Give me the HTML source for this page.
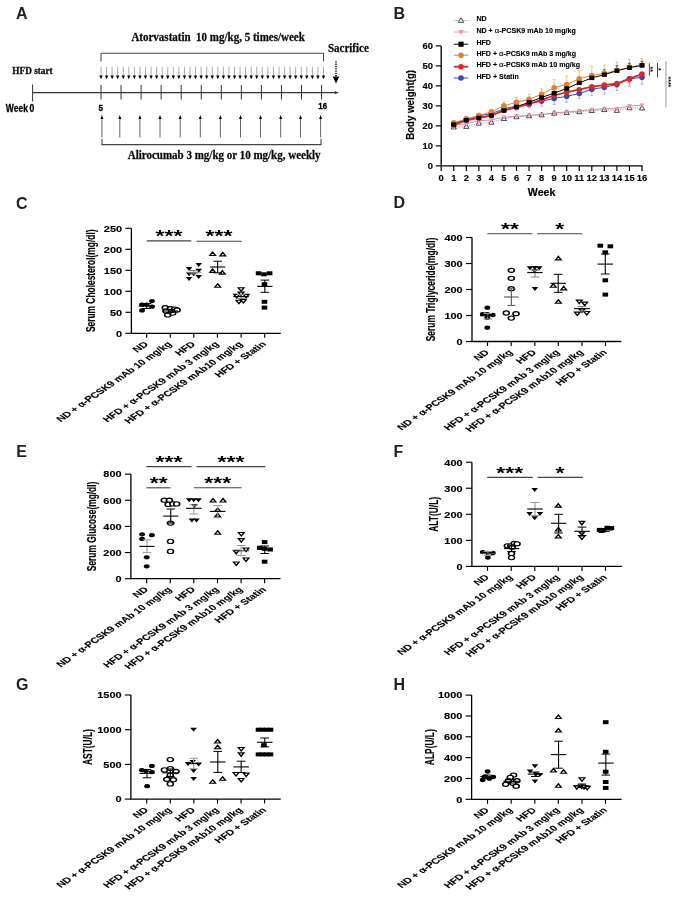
<!DOCTYPE html>
<html><head><meta charset="utf-8"><style>
html,body{margin:0;padding:0;background:#fff;}
svg{display:block;filter:blur(0.35px);}
</style></head><body>
<svg width="685" height="900" viewBox="0 0 685 900">
<rect width="685" height="900" fill="#fff"/>
<text transform="translate(15.90,18.80)" font-family="Liberation Sans" font-size="16" font-weight="bold" text-anchor="start" fill="#231f20" >A</text>
<text transform="translate(393.60,18.80)" font-family="Liberation Sans" font-size="16" font-weight="bold" text-anchor="start" fill="#231f20" >B</text>
<text transform="translate(15.90,208.60)" font-family="Liberation Sans" font-size="16" font-weight="bold" text-anchor="start" fill="#231f20" >C</text>
<text transform="translate(393.60,208.40)" font-family="Liberation Sans" font-size="16" font-weight="bold" text-anchor="start" fill="#231f20" >D</text>
<text transform="translate(16.20,456.80)" font-family="Liberation Sans" font-size="16" font-weight="bold" text-anchor="start" fill="#231f20" >E</text>
<text transform="translate(393.60,456.80)" font-family="Liberation Sans" font-size="16" font-weight="bold" text-anchor="start" fill="#231f20" >F</text>
<text transform="translate(16.00,690.30)" font-family="Liberation Sans" font-size="16" font-weight="bold" text-anchor="start" fill="#231f20" >G</text>
<text transform="translate(393.60,690.00)" font-family="Liberation Sans" font-size="16" font-weight="bold" text-anchor="start" fill="#231f20" >H</text>
<text transform="translate(131.40,41.00) scale(0.88,1.0)" font-family="Liberation Serif" font-size="12.5" font-weight="bold" text-anchor="start" fill="#000" stroke="#231f20" stroke-width="0.3">Atorvastatin&#160; 10 mg/kg, 5 times/week</text>
<text transform="translate(12.30,73.80) scale(0.9,1.0)" font-family="Liberation Serif" font-size="10.3" font-weight="bold" text-anchor="start" fill="#000" stroke="#231f20" stroke-width="0.3">HFD start</text>
<text transform="translate(327.90,51.90) scale(0.875,1.0)" font-family="Liberation Serif" font-size="12.6" font-weight="bold" text-anchor="start" fill="#000" stroke="#231f20" stroke-width="0.3">Sacrifice</text>
<text transform="translate(127.70,159.00) scale(0.88,1.0)" font-family="Liberation Serif" font-size="12.5" font-weight="bold" text-anchor="start" fill="#000" stroke="#231f20" stroke-width="0.3">Alirocumab 3 mg/kg or 10 mg/kg, weekly</text>
<path d="M101,61.5 V53.3 H323.5 V61.5" fill="none" stroke="#444" stroke-width="1.05"/>
<line x1="101.00" y1="66.80" x2="101.00" y2="75.80" stroke="#999" stroke-width="0.85" />
<path d="M99.30,75.4 L102.70,75.4 L101.00,79.2 Z" fill="#000"/>
<line x1="106.56" y1="66.80" x2="106.56" y2="75.80" stroke="#999" stroke-width="0.85" />
<path d="M104.86,75.4 L108.26,75.4 L106.56,79.2 Z" fill="#000"/>
<line x1="112.12" y1="66.80" x2="112.12" y2="75.80" stroke="#999" stroke-width="0.85" />
<path d="M110.42,75.4 L113.83,75.4 L112.12,79.2 Z" fill="#000"/>
<line x1="117.69" y1="66.80" x2="117.69" y2="75.80" stroke="#999" stroke-width="0.85" />
<path d="M115.99,75.4 L119.39,75.4 L117.69,79.2 Z" fill="#000"/>
<line x1="123.25" y1="66.80" x2="123.25" y2="75.80" stroke="#999" stroke-width="0.85" />
<path d="M121.55,75.4 L124.95,75.4 L123.25,79.2 Z" fill="#000"/>
<line x1="128.81" y1="66.80" x2="128.81" y2="75.80" stroke="#999" stroke-width="0.85" />
<path d="M127.11,75.4 L130.51,75.4 L128.81,79.2 Z" fill="#000"/>
<line x1="134.38" y1="66.80" x2="134.38" y2="75.80" stroke="#999" stroke-width="0.85" />
<path d="M132.68,75.4 L136.07,75.4 L134.38,79.2 Z" fill="#000"/>
<line x1="139.94" y1="66.80" x2="139.94" y2="75.80" stroke="#999" stroke-width="0.85" />
<path d="M138.24,75.4 L141.64,75.4 L139.94,79.2 Z" fill="#000"/>
<line x1="145.50" y1="66.80" x2="145.50" y2="75.80" stroke="#999" stroke-width="0.85" />
<path d="M143.80,75.4 L147.20,75.4 L145.50,79.2 Z" fill="#000"/>
<line x1="151.06" y1="66.80" x2="151.06" y2="75.80" stroke="#999" stroke-width="0.85" />
<path d="M149.36,75.4 L152.76,75.4 L151.06,79.2 Z" fill="#000"/>
<line x1="156.62" y1="66.80" x2="156.62" y2="75.80" stroke="#999" stroke-width="0.85" />
<path d="M154.93,75.4 L158.32,75.4 L156.62,79.2 Z" fill="#000"/>
<line x1="162.19" y1="66.80" x2="162.19" y2="75.80" stroke="#999" stroke-width="0.85" />
<path d="M160.49,75.4 L163.89,75.4 L162.19,79.2 Z" fill="#000"/>
<line x1="167.75" y1="66.80" x2="167.75" y2="75.80" stroke="#999" stroke-width="0.85" />
<path d="M166.05,75.4 L169.45,75.4 L167.75,79.2 Z" fill="#000"/>
<line x1="173.31" y1="66.80" x2="173.31" y2="75.80" stroke="#999" stroke-width="0.85" />
<path d="M171.61,75.4 L175.01,75.4 L173.31,79.2 Z" fill="#000"/>
<line x1="178.88" y1="66.80" x2="178.88" y2="75.80" stroke="#999" stroke-width="0.85" />
<path d="M177.18,75.4 L180.57,75.4 L178.88,79.2 Z" fill="#000"/>
<line x1="184.44" y1="66.80" x2="184.44" y2="75.80" stroke="#999" stroke-width="0.85" />
<path d="M182.74,75.4 L186.14,75.4 L184.44,79.2 Z" fill="#000"/>
<line x1="190.00" y1="66.80" x2="190.00" y2="75.80" stroke="#999" stroke-width="0.85" />
<path d="M188.30,75.4 L191.70,75.4 L190.00,79.2 Z" fill="#000"/>
<line x1="195.56" y1="66.80" x2="195.56" y2="75.80" stroke="#999" stroke-width="0.85" />
<path d="M193.86,75.4 L197.26,75.4 L195.56,79.2 Z" fill="#000"/>
<line x1="201.12" y1="66.80" x2="201.12" y2="75.80" stroke="#999" stroke-width="0.85" />
<path d="M199.43,75.4 L202.82,75.4 L201.12,79.2 Z" fill="#000"/>
<line x1="206.69" y1="66.80" x2="206.69" y2="75.80" stroke="#999" stroke-width="0.85" />
<path d="M204.99,75.4 L208.39,75.4 L206.69,79.2 Z" fill="#000"/>
<line x1="212.25" y1="66.80" x2="212.25" y2="75.80" stroke="#999" stroke-width="0.85" />
<path d="M210.55,75.4 L213.95,75.4 L212.25,79.2 Z" fill="#000"/>
<line x1="217.81" y1="66.80" x2="217.81" y2="75.80" stroke="#999" stroke-width="0.85" />
<path d="M216.11,75.4 L219.51,75.4 L217.81,79.2 Z" fill="#000"/>
<line x1="223.38" y1="66.80" x2="223.38" y2="75.80" stroke="#999" stroke-width="0.85" />
<path d="M221.68,75.4 L225.07,75.4 L223.38,79.2 Z" fill="#000"/>
<line x1="228.94" y1="66.80" x2="228.94" y2="75.80" stroke="#999" stroke-width="0.85" />
<path d="M227.24,75.4 L230.64,75.4 L228.94,79.2 Z" fill="#000"/>
<line x1="234.50" y1="66.80" x2="234.50" y2="75.80" stroke="#999" stroke-width="0.85" />
<path d="M232.80,75.4 L236.20,75.4 L234.50,79.2 Z" fill="#000"/>
<line x1="240.06" y1="66.80" x2="240.06" y2="75.80" stroke="#999" stroke-width="0.85" />
<path d="M238.36,75.4 L241.76,75.4 L240.06,79.2 Z" fill="#000"/>
<line x1="245.62" y1="66.80" x2="245.62" y2="75.80" stroke="#999" stroke-width="0.85" />
<path d="M243.93,75.4 L247.32,75.4 L245.62,79.2 Z" fill="#000"/>
<line x1="251.19" y1="66.80" x2="251.19" y2="75.80" stroke="#999" stroke-width="0.85" />
<path d="M249.49,75.4 L252.89,75.4 L251.19,79.2 Z" fill="#000"/>
<line x1="256.75" y1="66.80" x2="256.75" y2="75.80" stroke="#999" stroke-width="0.85" />
<path d="M255.05,75.4 L258.45,75.4 L256.75,79.2 Z" fill="#000"/>
<line x1="262.31" y1="66.80" x2="262.31" y2="75.80" stroke="#999" stroke-width="0.85" />
<path d="M260.61,75.4 L264.01,75.4 L262.31,79.2 Z" fill="#000"/>
<line x1="267.88" y1="66.80" x2="267.88" y2="75.80" stroke="#999" stroke-width="0.85" />
<path d="M266.18,75.4 L269.57,75.4 L267.88,79.2 Z" fill="#000"/>
<line x1="273.44" y1="66.80" x2="273.44" y2="75.80" stroke="#999" stroke-width="0.85" />
<path d="M271.74,75.4 L275.14,75.4 L273.44,79.2 Z" fill="#000"/>
<line x1="279.00" y1="66.80" x2="279.00" y2="75.80" stroke="#999" stroke-width="0.85" />
<path d="M277.30,75.4 L280.70,75.4 L279.00,79.2 Z" fill="#000"/>
<line x1="284.56" y1="66.80" x2="284.56" y2="75.80" stroke="#999" stroke-width="0.85" />
<path d="M282.86,75.4 L286.26,75.4 L284.56,79.2 Z" fill="#000"/>
<line x1="290.12" y1="66.80" x2="290.12" y2="75.80" stroke="#999" stroke-width="0.85" />
<path d="M288.43,75.4 L291.82,75.4 L290.12,79.2 Z" fill="#000"/>
<line x1="295.69" y1="66.80" x2="295.69" y2="75.80" stroke="#999" stroke-width="0.85" />
<path d="M293.99,75.4 L297.39,75.4 L295.69,79.2 Z" fill="#000"/>
<line x1="301.25" y1="66.80" x2="301.25" y2="75.80" stroke="#999" stroke-width="0.85" />
<path d="M299.55,75.4 L302.95,75.4 L301.25,79.2 Z" fill="#000"/>
<line x1="306.81" y1="66.80" x2="306.81" y2="75.80" stroke="#999" stroke-width="0.85" />
<path d="M305.11,75.4 L308.51,75.4 L306.81,79.2 Z" fill="#000"/>
<line x1="312.38" y1="66.80" x2="312.38" y2="75.80" stroke="#999" stroke-width="0.85" />
<path d="M310.68,75.4 L314.07,75.4 L312.38,79.2 Z" fill="#000"/>
<line x1="317.94" y1="66.80" x2="317.94" y2="75.80" stroke="#999" stroke-width="0.85" />
<path d="M316.24,75.4 L319.64,75.4 L317.94,79.2 Z" fill="#000"/>
<line x1="323.50" y1="66.80" x2="323.50" y2="75.80" stroke="#999" stroke-width="0.85" />
<path d="M321.80,75.4 L325.20,75.4 L323.50,79.2 Z" fill="#000"/>
<line x1="32.60" y1="92.70" x2="336.00" y2="92.70" stroke="#333" stroke-width="1.2" />
<path d="M334.8,91.1 L338.8,92.7 L334.8,94.3 Z" fill="#333"/>
<line x1="32.60" y1="84.50" x2="32.60" y2="101.50" stroke="#333" stroke-width="1.0" />
<line x1="101.00" y1="85.00" x2="101.00" y2="99.50" stroke="#333" stroke-width="1.0" />
<line x1="121.05" y1="85.00" x2="121.05" y2="99.50" stroke="#333" stroke-width="1.0" />
<line x1="141.10" y1="85.00" x2="141.10" y2="99.50" stroke="#333" stroke-width="1.0" />
<line x1="161.15" y1="85.00" x2="161.15" y2="99.50" stroke="#333" stroke-width="1.0" />
<line x1="181.20" y1="85.00" x2="181.20" y2="99.50" stroke="#333" stroke-width="1.0" />
<line x1="201.25" y1="85.00" x2="201.25" y2="99.50" stroke="#333" stroke-width="1.0" />
<line x1="221.30" y1="85.00" x2="221.30" y2="99.50" stroke="#333" stroke-width="1.0" />
<line x1="241.35" y1="85.00" x2="241.35" y2="99.50" stroke="#333" stroke-width="1.0" />
<line x1="261.40" y1="85.00" x2="261.40" y2="99.50" stroke="#333" stroke-width="1.0" />
<line x1="281.45" y1="85.00" x2="281.45" y2="99.50" stroke="#333" stroke-width="1.0" />
<line x1="301.50" y1="85.00" x2="301.50" y2="99.50" stroke="#333" stroke-width="1.0" />
<line x1="321.55" y1="85.00" x2="321.55" y2="99.50" stroke="#333" stroke-width="1.0" />
<text transform="translate(5.80,111.70) scale(0.82,1.0)" font-family="Liberation Sans" font-size="10.4" font-weight="bold" text-anchor="start" fill="#000" stroke="#000" stroke-width="0.3">Week&#8201;0</text>
<text transform="translate(98.60,110.70) scale(0.84,1.0)" font-family="Liberation Sans" font-size="9.6" font-weight="bold" text-anchor="start" fill="#000" stroke="#000" stroke-width="0.3">5</text>
<text transform="translate(318.30,108.70) scale(0.87,1.0)" font-family="Liberation Sans" font-size="9.0" font-weight="bold" text-anchor="start" fill="#000" stroke="#000" stroke-width="0.3">16</text>
<line x1="336.00" y1="61.30" x2="336.00" y2="77.00" stroke="#000" stroke-width="1.4" stroke-dasharray="1.3,1"/>
<path d="M332.7,76.5 L339.3,76.5 L336,83.5 Z" fill="#000"/>
<line x1="101.90" y1="118.50" x2="101.90" y2="137.50" stroke="#555" stroke-width="0.9" />
<path d="M100.40,119 L103.40,119 L101.90,115 Z" fill="#000"/>
<line x1="119.80" y1="118.50" x2="119.80" y2="137.50" stroke="#555" stroke-width="0.9" />
<path d="M118.30,119 L121.30,119 L119.80,115 Z" fill="#000"/>
<line x1="139.90" y1="118.50" x2="139.90" y2="137.50" stroke="#555" stroke-width="0.9" />
<path d="M138.40,119 L141.40,119 L139.90,115 Z" fill="#000"/>
<line x1="160.00" y1="118.50" x2="160.00" y2="137.50" stroke="#555" stroke-width="0.9" />
<path d="M158.50,119 L161.50,119 L160.00,115 Z" fill="#000"/>
<line x1="180.20" y1="118.50" x2="180.20" y2="137.50" stroke="#555" stroke-width="0.9" />
<path d="M178.70,119 L181.70,119 L180.20,115 Z" fill="#000"/>
<line x1="200.30" y1="118.50" x2="200.30" y2="137.50" stroke="#555" stroke-width="0.9" />
<path d="M198.80,119 L201.80,119 L200.30,115 Z" fill="#000"/>
<line x1="220.40" y1="118.50" x2="220.40" y2="137.50" stroke="#555" stroke-width="0.9" />
<path d="M218.90,119 L221.90,119 L220.40,115 Z" fill="#000"/>
<line x1="240.50" y1="118.50" x2="240.50" y2="137.50" stroke="#555" stroke-width="0.9" />
<path d="M239.00,119 L242.00,119 L240.50,115 Z" fill="#000"/>
<line x1="260.50" y1="118.50" x2="260.50" y2="137.50" stroke="#555" stroke-width="0.9" />
<path d="M259.00,119 L262.00,119 L260.50,115 Z" fill="#000"/>
<line x1="280.70" y1="118.50" x2="280.70" y2="137.50" stroke="#555" stroke-width="0.9" />
<path d="M279.20,119 L282.20,119 L280.70,115 Z" fill="#000"/>
<line x1="300.50" y1="118.50" x2="300.50" y2="137.50" stroke="#555" stroke-width="0.9" />
<path d="M299.00,119 L302.00,119 L300.50,115 Z" fill="#000"/>
<line x1="320.60" y1="118.50" x2="320.60" y2="137.50" stroke="#555" stroke-width="0.9" />
<path d="M319.10,119 L322.10,119 L320.60,115 Z" fill="#000"/>
<path d="M102,138.8 V144.6 H321 V138.8" fill="none" stroke="#444" stroke-width="1.05"/>
<line x1="453.75" y1="121.30" x2="453.75" y2="122.90" stroke="#f0b070" stroke-width="0.8" />
<line x1="452.25" y1="121.30" x2="455.25" y2="121.30" stroke="#f0b070" stroke-width="0.8" />
<line x1="466.30" y1="116.90" x2="466.30" y2="118.90" stroke="#f0b070" stroke-width="0.8" />
<line x1="464.80" y1="116.90" x2="467.80" y2="116.90" stroke="#f0b070" stroke-width="0.8" />
<line x1="478.85" y1="113.10" x2="478.85" y2="115.50" stroke="#f0b070" stroke-width="0.8" />
<line x1="477.35" y1="113.10" x2="480.35" y2="113.10" stroke="#f0b070" stroke-width="0.8" />
<line x1="491.40" y1="109.30" x2="491.40" y2="111.90" stroke="#f0b070" stroke-width="0.8" />
<line x1="489.90" y1="109.30" x2="492.90" y2="109.30" stroke="#f0b070" stroke-width="0.8" />
<line x1="503.95" y1="101.90" x2="503.95" y2="105.90" stroke="#f0b070" stroke-width="0.8" />
<line x1="502.45" y1="101.90" x2="505.45" y2="101.90" stroke="#f0b070" stroke-width="0.8" />
<line x1="516.50" y1="97.70" x2="516.50" y2="102.30" stroke="#f0b070" stroke-width="0.8" />
<line x1="515.00" y1="97.70" x2="518.00" y2="97.70" stroke="#f0b070" stroke-width="0.8" />
<line x1="529.05" y1="94.30" x2="529.05" y2="99.30" stroke="#f0b070" stroke-width="0.8" />
<line x1="527.55" y1="94.30" x2="530.55" y2="94.30" stroke="#f0b070" stroke-width="0.8" />
<line x1="541.60" y1="88.70" x2="541.60" y2="94.30" stroke="#f0b070" stroke-width="0.8" />
<line x1="540.10" y1="88.70" x2="543.10" y2="88.70" stroke="#f0b070" stroke-width="0.8" />
<line x1="554.15" y1="79.70" x2="554.15" y2="87.70" stroke="#f0b070" stroke-width="0.8" />
<line x1="552.65" y1="79.70" x2="555.65" y2="79.70" stroke="#f0b070" stroke-width="0.8" />
<line x1="566.70" y1="76.10" x2="566.70" y2="84.50" stroke="#f0b070" stroke-width="0.8" />
<line x1="565.20" y1="76.10" x2="568.20" y2="76.10" stroke="#f0b070" stroke-width="0.8" />
<line x1="579.25" y1="70.70" x2="579.25" y2="78.70" stroke="#f0b070" stroke-width="0.8" />
<line x1="577.75" y1="70.70" x2="580.75" y2="70.70" stroke="#f0b070" stroke-width="0.8" />
<line x1="591.80" y1="66.30" x2="591.80" y2="75.50" stroke="#f0b070" stroke-width="0.8" />
<line x1="590.30" y1="66.30" x2="593.30" y2="66.30" stroke="#f0b070" stroke-width="0.8" />
<line x1="604.35" y1="64.90" x2="604.35" y2="73.30" stroke="#f0b070" stroke-width="0.8" />
<line x1="602.85" y1="64.90" x2="605.85" y2="64.90" stroke="#f0b070" stroke-width="0.8" />
<line x1="616.90" y1="62.10" x2="616.90" y2="70.50" stroke="#f0b070" stroke-width="0.8" />
<line x1="615.40" y1="62.10" x2="618.40" y2="62.10" stroke="#f0b070" stroke-width="0.8" />
<line x1="629.45" y1="59.10" x2="629.45" y2="67.10" stroke="#f0b070" stroke-width="0.8" />
<line x1="627.95" y1="59.10" x2="630.95" y2="59.10" stroke="#f0b070" stroke-width="0.8" />
<line x1="642.00" y1="58.50" x2="642.00" y2="65.30" stroke="#f0b070" stroke-width="0.8" />
<line x1="640.50" y1="58.50" x2="643.50" y2="58.50" stroke="#f0b070" stroke-width="0.8" />
<line x1="453.75" y1="123.50" x2="453.75" y2="125.10" stroke="#8fa0e0" stroke-width="0.8" />
<line x1="452.25" y1="125.10" x2="455.25" y2="125.10" stroke="#8fa0e0" stroke-width="0.8" />
<line x1="466.30" y1="119.50" x2="466.30" y2="121.50" stroke="#8fa0e0" stroke-width="0.8" />
<line x1="464.80" y1="121.50" x2="467.80" y2="121.50" stroke="#8fa0e0" stroke-width="0.8" />
<line x1="478.85" y1="115.90" x2="478.85" y2="117.90" stroke="#8fa0e0" stroke-width="0.8" />
<line x1="477.35" y1="117.90" x2="480.35" y2="117.90" stroke="#8fa0e0" stroke-width="0.8" />
<line x1="491.40" y1="113.50" x2="491.40" y2="115.90" stroke="#8fa0e0" stroke-width="0.8" />
<line x1="489.90" y1="115.90" x2="492.90" y2="115.90" stroke="#8fa0e0" stroke-width="0.8" />
<line x1="503.95" y1="108.90" x2="503.95" y2="111.90" stroke="#8fa0e0" stroke-width="0.8" />
<line x1="502.45" y1="111.90" x2="505.45" y2="111.90" stroke="#8fa0e0" stroke-width="0.8" />
<line x1="516.50" y1="105.90" x2="516.50" y2="109.90" stroke="#8fa0e0" stroke-width="0.8" />
<line x1="515.00" y1="109.90" x2="518.00" y2="109.90" stroke="#8fa0e0" stroke-width="0.8" />
<line x1="529.05" y1="103.90" x2="529.05" y2="107.90" stroke="#8fa0e0" stroke-width="0.8" />
<line x1="527.55" y1="107.90" x2="530.55" y2="107.90" stroke="#8fa0e0" stroke-width="0.8" />
<line x1="541.60" y1="101.10" x2="541.60" y2="106.10" stroke="#8fa0e0" stroke-width="0.8" />
<line x1="540.10" y1="106.10" x2="543.10" y2="106.10" stroke="#8fa0e0" stroke-width="0.8" />
<line x1="554.15" y1="98.50" x2="554.15" y2="104.50" stroke="#8fa0e0" stroke-width="0.8" />
<line x1="552.65" y1="104.50" x2="555.65" y2="104.50" stroke="#8fa0e0" stroke-width="0.8" />
<line x1="566.70" y1="96.30" x2="566.70" y2="102.30" stroke="#8fa0e0" stroke-width="0.8" />
<line x1="565.20" y1="102.30" x2="568.20" y2="102.30" stroke="#8fa0e0" stroke-width="0.8" />
<line x1="579.25" y1="93.50" x2="579.25" y2="98.70" stroke="#8fa0e0" stroke-width="0.8" />
<line x1="577.75" y1="98.70" x2="580.75" y2="98.70" stroke="#8fa0e0" stroke-width="0.8" />
<line x1="591.80" y1="89.30" x2="591.80" y2="95.70" stroke="#8fa0e0" stroke-width="0.8" />
<line x1="590.30" y1="95.70" x2="593.30" y2="95.70" stroke="#8fa0e0" stroke-width="0.8" />
<line x1="604.35" y1="87.30" x2="604.35" y2="94.10" stroke="#8fa0e0" stroke-width="0.8" />
<line x1="602.85" y1="94.10" x2="605.85" y2="94.10" stroke="#8fa0e0" stroke-width="0.8" />
<line x1="616.90" y1="84.50" x2="616.90" y2="90.50" stroke="#8fa0e0" stroke-width="0.8" />
<line x1="615.40" y1="90.50" x2="618.40" y2="90.50" stroke="#8fa0e0" stroke-width="0.8" />
<line x1="629.45" y1="78.90" x2="629.45" y2="86.10" stroke="#8fa0e0" stroke-width="0.8" />
<line x1="627.95" y1="86.10" x2="630.95" y2="86.10" stroke="#8fa0e0" stroke-width="0.8" />
<line x1="642.00" y1="77.30" x2="642.00" y2="84.10" stroke="#8fa0e0" stroke-width="0.8" />
<line x1="640.50" y1="84.10" x2="643.50" y2="84.10" stroke="#8fa0e0" stroke-width="0.8" />
<line x1="453.75" y1="123.50" x2="453.75" y2="124.50" stroke="#444" stroke-width="0.8" />
<line x1="452.25" y1="123.50" x2="455.25" y2="123.50" stroke="#444" stroke-width="0.8" />
<line x1="466.30" y1="118.90" x2="466.30" y2="120.10" stroke="#444" stroke-width="0.8" />
<line x1="464.80" y1="118.90" x2="467.80" y2="118.90" stroke="#444" stroke-width="0.8" />
<line x1="478.85" y1="116.50" x2="478.85" y2="117.90" stroke="#444" stroke-width="0.8" />
<line x1="477.35" y1="116.50" x2="480.35" y2="116.50" stroke="#444" stroke-width="0.8" />
<line x1="491.40" y1="113.90" x2="491.40" y2="115.50" stroke="#444" stroke-width="0.8" />
<line x1="489.90" y1="113.90" x2="492.90" y2="113.90" stroke="#444" stroke-width="0.8" />
<line x1="503.95" y1="108.50" x2="503.95" y2="110.50" stroke="#444" stroke-width="0.8" />
<line x1="502.45" y1="108.50" x2="505.45" y2="108.50" stroke="#444" stroke-width="0.8" />
<line x1="516.50" y1="104.90" x2="516.50" y2="106.90" stroke="#444" stroke-width="0.8" />
<line x1="515.00" y1="104.90" x2="518.00" y2="104.90" stroke="#444" stroke-width="0.8" />
<line x1="529.05" y1="99.90" x2="529.05" y2="102.30" stroke="#444" stroke-width="0.8" />
<line x1="527.55" y1="99.90" x2="530.55" y2="99.90" stroke="#444" stroke-width="0.8" />
<line x1="541.60" y1="94.50" x2="541.60" y2="97.50" stroke="#444" stroke-width="0.8" />
<line x1="540.10" y1="94.50" x2="543.10" y2="94.50" stroke="#444" stroke-width="0.8" />
<line x1="554.15" y1="89.50" x2="554.15" y2="93.10" stroke="#444" stroke-width="0.8" />
<line x1="552.65" y1="89.50" x2="555.65" y2="89.50" stroke="#444" stroke-width="0.8" />
<line x1="566.70" y1="84.50" x2="566.70" y2="88.50" stroke="#444" stroke-width="0.8" />
<line x1="565.20" y1="84.50" x2="568.20" y2="84.50" stroke="#444" stroke-width="0.8" />
<line x1="579.25" y1="78.90" x2="579.25" y2="82.90" stroke="#444" stroke-width="0.8" />
<line x1="577.75" y1="78.90" x2="580.75" y2="78.90" stroke="#444" stroke-width="0.8" />
<line x1="591.80" y1="73.50" x2="591.80" y2="77.90" stroke="#444" stroke-width="0.8" />
<line x1="590.30" y1="73.50" x2="593.30" y2="73.50" stroke="#444" stroke-width="0.8" />
<line x1="604.35" y1="69.90" x2="604.35" y2="74.70" stroke="#444" stroke-width="0.8" />
<line x1="602.85" y1="69.90" x2="605.85" y2="69.90" stroke="#444" stroke-width="0.8" />
<line x1="616.90" y1="65.70" x2="616.90" y2="70.70" stroke="#444" stroke-width="0.8" />
<line x1="615.40" y1="65.70" x2="618.40" y2="65.70" stroke="#444" stroke-width="0.8" />
<line x1="629.45" y1="63.30" x2="629.45" y2="67.70" stroke="#444" stroke-width="0.8" />
<line x1="627.95" y1="63.30" x2="630.95" y2="63.30" stroke="#444" stroke-width="0.8" />
<line x1="642.00" y1="61.30" x2="642.00" y2="65.30" stroke="#444" stroke-width="0.8" />
<line x1="640.50" y1="61.30" x2="643.50" y2="61.30" stroke="#444" stroke-width="0.8" />
<line x1="453.75" y1="124.90" x2="453.75" y2="125.90" stroke="#e88" stroke-width="0.8" />
<line x1="452.25" y1="125.90" x2="455.25" y2="125.90" stroke="#e88" stroke-width="0.8" />
<line x1="466.30" y1="120.30" x2="466.30" y2="121.50" stroke="#e88" stroke-width="0.8" />
<line x1="464.80" y1="121.50" x2="467.80" y2="121.50" stroke="#e88" stroke-width="0.8" />
<line x1="478.85" y1="117.90" x2="478.85" y2="119.30" stroke="#e88" stroke-width="0.8" />
<line x1="477.35" y1="119.30" x2="480.35" y2="119.30" stroke="#e88" stroke-width="0.8" />
<line x1="491.40" y1="115.50" x2="491.40" y2="117.10" stroke="#e88" stroke-width="0.8" />
<line x1="489.90" y1="117.10" x2="492.90" y2="117.10" stroke="#e88" stroke-width="0.8" />
<line x1="503.95" y1="110.30" x2="503.95" y2="112.30" stroke="#e88" stroke-width="0.8" />
<line x1="502.45" y1="112.30" x2="505.45" y2="112.30" stroke="#e88" stroke-width="0.8" />
<line x1="516.50" y1="107.50" x2="516.50" y2="109.50" stroke="#e88" stroke-width="0.8" />
<line x1="515.00" y1="109.50" x2="518.00" y2="109.50" stroke="#e88" stroke-width="0.8" />
<line x1="529.05" y1="103.90" x2="529.05" y2="106.30" stroke="#e88" stroke-width="0.8" />
<line x1="527.55" y1="106.30" x2="530.55" y2="106.30" stroke="#e88" stroke-width="0.8" />
<line x1="541.60" y1="99.90" x2="541.60" y2="102.90" stroke="#e88" stroke-width="0.8" />
<line x1="540.10" y1="102.90" x2="543.10" y2="102.90" stroke="#e88" stroke-width="0.8" />
<line x1="554.15" y1="95.50" x2="554.15" y2="98.70" stroke="#e88" stroke-width="0.8" />
<line x1="552.65" y1="98.70" x2="555.65" y2="98.70" stroke="#e88" stroke-width="0.8" />
<line x1="566.70" y1="92.10" x2="566.70" y2="95.70" stroke="#e88" stroke-width="0.8" />
<line x1="565.20" y1="95.70" x2="568.20" y2="95.70" stroke="#e88" stroke-width="0.8" />
<line x1="579.25" y1="89.70" x2="579.25" y2="93.30" stroke="#e88" stroke-width="0.8" />
<line x1="577.75" y1="93.30" x2="580.75" y2="93.30" stroke="#e88" stroke-width="0.8" />
<line x1="591.80" y1="86.70" x2="591.80" y2="90.70" stroke="#e88" stroke-width="0.8" />
<line x1="590.30" y1="90.70" x2="593.30" y2="90.70" stroke="#e88" stroke-width="0.8" />
<line x1="604.35" y1="85.10" x2="604.35" y2="89.10" stroke="#e88" stroke-width="0.8" />
<line x1="602.85" y1="89.10" x2="605.85" y2="89.10" stroke="#e88" stroke-width="0.8" />
<line x1="616.90" y1="83.50" x2="616.90" y2="87.50" stroke="#e88" stroke-width="0.8" />
<line x1="615.40" y1="87.50" x2="618.40" y2="87.50" stroke="#e88" stroke-width="0.8" />
<line x1="629.45" y1="78.70" x2="629.45" y2="82.70" stroke="#e88" stroke-width="0.8" />
<line x1="627.95" y1="82.70" x2="630.95" y2="82.70" stroke="#e88" stroke-width="0.8" />
<line x1="642.00" y1="74.10" x2="642.00" y2="78.10" stroke="#e88" stroke-width="0.8" />
<line x1="640.50" y1="78.10" x2="643.50" y2="78.10" stroke="#e88" stroke-width="0.8" />
<line x1="453.75" y1="123.90" x2="453.75" y2="125.90" stroke="#e891a8" stroke-width="0.8" />
<line x1="452.25" y1="123.90" x2="455.25" y2="123.90" stroke="#e891a8" stroke-width="0.8" />
<line x1="452.25" y1="125.90" x2="455.25" y2="125.90" stroke="#e891a8" stroke-width="0.8" />
<line x1="466.30" y1="122.90" x2="466.30" y2="124.90" stroke="#e891a8" stroke-width="0.8" />
<line x1="464.80" y1="122.90" x2="467.80" y2="122.90" stroke="#e891a8" stroke-width="0.8" />
<line x1="464.80" y1="124.90" x2="467.80" y2="124.90" stroke="#e891a8" stroke-width="0.8" />
<line x1="478.85" y1="119.90" x2="478.85" y2="121.90" stroke="#e891a8" stroke-width="0.8" />
<line x1="477.35" y1="119.90" x2="480.35" y2="119.90" stroke="#e891a8" stroke-width="0.8" />
<line x1="477.35" y1="121.90" x2="480.35" y2="121.90" stroke="#e891a8" stroke-width="0.8" />
<line x1="491.40" y1="118.90" x2="491.40" y2="120.90" stroke="#e891a8" stroke-width="0.8" />
<line x1="489.90" y1="118.90" x2="492.90" y2="118.90" stroke="#e891a8" stroke-width="0.8" />
<line x1="489.90" y1="120.90" x2="492.90" y2="120.90" stroke="#e891a8" stroke-width="0.8" />
<line x1="503.95" y1="116.30" x2="503.95" y2="118.30" stroke="#e891a8" stroke-width="0.8" />
<line x1="502.45" y1="116.30" x2="505.45" y2="116.30" stroke="#e891a8" stroke-width="0.8" />
<line x1="502.45" y1="118.30" x2="505.45" y2="118.30" stroke="#e891a8" stroke-width="0.8" />
<line x1="516.50" y1="115.30" x2="516.50" y2="117.30" stroke="#e891a8" stroke-width="0.8" />
<line x1="515.00" y1="115.30" x2="518.00" y2="115.30" stroke="#e891a8" stroke-width="0.8" />
<line x1="515.00" y1="117.30" x2="518.00" y2="117.30" stroke="#e891a8" stroke-width="0.8" />
<line x1="529.05" y1="114.30" x2="529.05" y2="116.30" stroke="#e891a8" stroke-width="0.8" />
<line x1="527.55" y1="114.30" x2="530.55" y2="114.30" stroke="#e891a8" stroke-width="0.8" />
<line x1="527.55" y1="116.30" x2="530.55" y2="116.30" stroke="#e891a8" stroke-width="0.8" />
<line x1="541.60" y1="113.50" x2="541.60" y2="115.50" stroke="#e891a8" stroke-width="0.8" />
<line x1="540.10" y1="113.50" x2="543.10" y2="113.50" stroke="#e891a8" stroke-width="0.8" />
<line x1="540.10" y1="115.50" x2="543.10" y2="115.50" stroke="#e891a8" stroke-width="0.8" />
<line x1="554.15" y1="111.90" x2="554.15" y2="113.90" stroke="#e891a8" stroke-width="0.8" />
<line x1="552.65" y1="111.90" x2="555.65" y2="111.90" stroke="#e891a8" stroke-width="0.8" />
<line x1="552.65" y1="113.90" x2="555.65" y2="113.90" stroke="#e891a8" stroke-width="0.8" />
<line x1="566.70" y1="110.90" x2="566.70" y2="112.90" stroke="#e891a8" stroke-width="0.8" />
<line x1="565.20" y1="110.90" x2="568.20" y2="110.90" stroke="#e891a8" stroke-width="0.8" />
<line x1="565.20" y1="112.90" x2="568.20" y2="112.90" stroke="#e891a8" stroke-width="0.8" />
<line x1="579.25" y1="109.90" x2="579.25" y2="111.90" stroke="#e891a8" stroke-width="0.8" />
<line x1="577.75" y1="109.90" x2="580.75" y2="109.90" stroke="#e891a8" stroke-width="0.8" />
<line x1="577.75" y1="111.90" x2="580.75" y2="111.90" stroke="#e891a8" stroke-width="0.8" />
<line x1="591.80" y1="108.50" x2="591.80" y2="110.50" stroke="#e891a8" stroke-width="0.8" />
<line x1="590.30" y1="108.50" x2="593.30" y2="108.50" stroke="#e891a8" stroke-width="0.8" />
<line x1="590.30" y1="110.50" x2="593.30" y2="110.50" stroke="#e891a8" stroke-width="0.8" />
<line x1="604.35" y1="107.70" x2="604.35" y2="109.70" stroke="#e891a8" stroke-width="0.8" />
<line x1="602.85" y1="107.70" x2="605.85" y2="107.70" stroke="#e891a8" stroke-width="0.8" />
<line x1="602.85" y1="109.70" x2="605.85" y2="109.70" stroke="#e891a8" stroke-width="0.8" />
<line x1="616.90" y1="107.70" x2="616.90" y2="109.70" stroke="#e891a8" stroke-width="0.8" />
<line x1="615.40" y1="107.70" x2="618.40" y2="107.70" stroke="#e891a8" stroke-width="0.8" />
<line x1="615.40" y1="109.70" x2="618.40" y2="109.70" stroke="#e891a8" stroke-width="0.8" />
<line x1="629.45" y1="104.90" x2="629.45" y2="106.90" stroke="#e891a8" stroke-width="0.8" />
<line x1="627.95" y1="104.90" x2="630.95" y2="104.90" stroke="#e891a8" stroke-width="0.8" />
<line x1="627.95" y1="106.90" x2="630.95" y2="106.90" stroke="#e891a8" stroke-width="0.8" />
<line x1="642.00" y1="104.30" x2="642.00" y2="106.30" stroke="#e891a8" stroke-width="0.8" />
<line x1="640.50" y1="104.30" x2="643.50" y2="104.30" stroke="#e891a8" stroke-width="0.8" />
<line x1="640.50" y1="106.30" x2="643.50" y2="106.30" stroke="#e891a8" stroke-width="0.8" />
<polyline points="453.75,127.10 466.30,126.50 478.85,123.30 491.40,122.30 503.95,118.70 516.50,116.90 529.05,115.90 541.60,114.90 554.15,113.30 566.70,112.70 579.25,111.90 591.80,110.70 604.35,109.70 616.90,110.50 629.45,107.90 642.00,108.10" fill="none" stroke="#999" stroke-width="0.8" stroke-dasharray="1.5,1"/>
<polyline points="453.75,124.90 466.30,123.90 478.85,120.90 491.40,119.90 503.95,117.30 516.50,116.30 529.05,115.30 541.60,114.50 554.15,112.90 566.70,111.90 579.25,110.90 591.80,109.50 604.35,108.70 616.90,108.70 629.45,105.90 642.00,105.30" fill="none" stroke="#c07888" stroke-width="0.8" />
<polyline points="453.75,123.50 466.30,119.50 478.85,115.90 491.40,113.50 503.95,108.90 516.50,105.90 529.05,103.90 541.60,101.10 554.15,98.50 566.70,96.30 579.25,93.50 591.80,89.30 604.35,87.30 616.90,84.50 629.45,78.90 642.00,77.30" fill="none" stroke="#2d4fb0" stroke-width="1.0" />
<polyline points="453.75,122.90 466.30,118.90 478.85,115.50 491.40,111.90 503.95,105.90 516.50,102.30 529.05,99.30 541.60,94.30 554.15,87.70 566.70,84.50 579.25,78.70 591.80,75.50 604.35,73.30 616.90,70.50 629.45,67.10 642.00,65.30" fill="none" stroke="#e8822a" stroke-width="1.0" />
<polyline points="453.75,124.50 466.30,120.10 478.85,117.90 491.40,115.50 503.95,110.50 516.50,106.90 529.05,102.30 541.60,97.50 554.15,93.10 566.70,88.50 579.25,82.90 591.80,77.90 604.35,74.70 616.90,70.70 629.45,67.70 642.00,65.30" fill="none" stroke="#000" stroke-width="1.0" />
<polyline points="453.75,124.90 466.30,120.30 478.85,117.90 491.40,115.50 503.95,110.30 516.50,107.50 529.05,103.90 541.60,99.90 554.15,95.50 566.70,92.10 579.25,89.70 591.80,86.70 604.35,85.10 616.90,83.50 629.45,78.70 642.00,74.10" fill="none" stroke="#d8282e" stroke-width="1.8" />
<path d="M453.75,124.29 L456.35,128.97 L451.15,128.97 Z" fill="white" stroke="#000" stroke-width="0.7"/>
<path d="M453.75,127.17 L455.85,123.39 L451.65,123.39 Z" fill="#ee9ab0" stroke="#e890a8" stroke-width="0.4"/>
<path d="M466.30,123.69 L468.90,128.37 L463.70,128.37 Z" fill="white" stroke="#000" stroke-width="0.7"/>
<path d="M466.30,126.17 L468.40,122.39 L464.20,122.39 Z" fill="#ee9ab0" stroke="#e890a8" stroke-width="0.4"/>
<path d="M478.85,120.49 L481.45,125.17 L476.25,125.17 Z" fill="white" stroke="#000" stroke-width="0.7"/>
<path d="M478.85,123.17 L480.95,119.39 L476.75,119.39 Z" fill="#ee9ab0" stroke="#e890a8" stroke-width="0.4"/>
<path d="M491.40,119.49 L494.00,124.17 L488.80,124.17 Z" fill="white" stroke="#000" stroke-width="0.7"/>
<path d="M491.40,122.17 L493.50,118.39 L489.30,118.39 Z" fill="#ee9ab0" stroke="#e890a8" stroke-width="0.4"/>
<path d="M503.95,115.89 L506.55,120.57 L501.35,120.57 Z" fill="white" stroke="#000" stroke-width="0.7"/>
<path d="M503.95,119.57 L506.05,115.79 L501.85,115.79 Z" fill="#ee9ab0" stroke="#e890a8" stroke-width="0.4"/>
<path d="M516.50,114.09 L519.10,118.77 L513.90,118.77 Z" fill="white" stroke="#000" stroke-width="0.7"/>
<path d="M516.50,118.57 L518.60,114.79 L514.40,114.79 Z" fill="#ee9ab0" stroke="#e890a8" stroke-width="0.4"/>
<path d="M529.05,113.09 L531.65,117.77 L526.45,117.77 Z" fill="white" stroke="#000" stroke-width="0.7"/>
<path d="M529.05,117.57 L531.15,113.79 L526.95,113.79 Z" fill="#ee9ab0" stroke="#e890a8" stroke-width="0.4"/>
<path d="M541.60,112.09 L544.20,116.77 L539.00,116.77 Z" fill="white" stroke="#000" stroke-width="0.7"/>
<path d="M541.60,116.77 L543.70,112.99 L539.50,112.99 Z" fill="#ee9ab0" stroke="#e890a8" stroke-width="0.4"/>
<path d="M554.15,110.49 L556.75,115.17 L551.55,115.17 Z" fill="white" stroke="#000" stroke-width="0.7"/>
<path d="M554.15,115.17 L556.25,111.39 L552.05,111.39 Z" fill="#ee9ab0" stroke="#e890a8" stroke-width="0.4"/>
<path d="M566.70,109.89 L569.30,114.57 L564.10,114.57 Z" fill="white" stroke="#000" stroke-width="0.7"/>
<path d="M566.70,114.17 L568.80,110.39 L564.60,110.39 Z" fill="#ee9ab0" stroke="#e890a8" stroke-width="0.4"/>
<path d="M579.25,109.09 L581.85,113.77 L576.65,113.77 Z" fill="white" stroke="#000" stroke-width="0.7"/>
<path d="M579.25,113.17 L581.35,109.39 L577.15,109.39 Z" fill="#ee9ab0" stroke="#e890a8" stroke-width="0.4"/>
<path d="M591.80,107.89 L594.40,112.57 L589.20,112.57 Z" fill="white" stroke="#000" stroke-width="0.7"/>
<path d="M591.80,111.77 L593.90,107.99 L589.70,107.99 Z" fill="#ee9ab0" stroke="#e890a8" stroke-width="0.4"/>
<path d="M604.35,106.89 L606.95,111.57 L601.75,111.57 Z" fill="white" stroke="#000" stroke-width="0.7"/>
<path d="M604.35,110.97 L606.45,107.19 L602.25,107.19 Z" fill="#ee9ab0" stroke="#e890a8" stroke-width="0.4"/>
<path d="M616.90,107.69 L619.50,112.37 L614.30,112.37 Z" fill="white" stroke="#000" stroke-width="0.7"/>
<path d="M616.90,110.97 L619.00,107.19 L614.80,107.19 Z" fill="#ee9ab0" stroke="#e890a8" stroke-width="0.4"/>
<path d="M629.45,105.09 L632.05,109.77 L626.85,109.77 Z" fill="white" stroke="#000" stroke-width="0.7"/>
<path d="M629.45,108.17 L631.55,104.39 L627.35,104.39 Z" fill="#ee9ab0" stroke="#e890a8" stroke-width="0.4"/>
<path d="M642.00,105.29 L644.60,109.97 L639.40,109.97 Z" fill="white" stroke="#000" stroke-width="0.7"/>
<path d="M642.00,107.57 L644.10,103.79 L639.90,103.79 Z" fill="#ee9ab0" stroke="#e890a8" stroke-width="0.4"/>
<circle cx="453.75" cy="123.50" r="2.8" fill="#2d4fb0"/>
<circle cx="466.30" cy="119.50" r="2.8" fill="#2d4fb0"/>
<circle cx="478.85" cy="115.90" r="2.8" fill="#2d4fb0"/>
<circle cx="491.40" cy="113.50" r="2.8" fill="#2d4fb0"/>
<circle cx="503.95" cy="108.90" r="2.8" fill="#2d4fb0"/>
<circle cx="516.50" cy="105.90" r="2.8" fill="#2d4fb0"/>
<circle cx="529.05" cy="103.90" r="2.8" fill="#2d4fb0"/>
<circle cx="541.60" cy="101.10" r="2.8" fill="#2d4fb0"/>
<circle cx="554.15" cy="98.50" r="2.8" fill="#2d4fb0"/>
<circle cx="566.70" cy="96.30" r="2.8" fill="#2d4fb0"/>
<circle cx="579.25" cy="93.50" r="2.8" fill="#2d4fb0"/>
<circle cx="591.80" cy="89.30" r="2.8" fill="#2d4fb0"/>
<circle cx="604.35" cy="87.30" r="2.8" fill="#2d4fb0"/>
<circle cx="616.90" cy="84.50" r="2.8" fill="#2d4fb0"/>
<circle cx="629.45" cy="78.90" r="2.8" fill="#2d4fb0"/>
<circle cx="642.00" cy="77.30" r="2.8" fill="#2d4fb0"/>
<circle cx="453.75" cy="124.90" r="2.8" fill="#d8282e"/>
<circle cx="466.30" cy="120.30" r="2.8" fill="#d8282e"/>
<circle cx="478.85" cy="117.90" r="2.8" fill="#d8282e"/>
<circle cx="491.40" cy="115.50" r="2.8" fill="#d8282e"/>
<circle cx="503.95" cy="110.30" r="2.8" fill="#d8282e"/>
<circle cx="516.50" cy="107.50" r="2.8" fill="#d8282e"/>
<circle cx="529.05" cy="103.90" r="2.8" fill="#d8282e"/>
<circle cx="541.60" cy="99.90" r="2.8" fill="#d8282e"/>
<circle cx="554.15" cy="95.50" r="2.8" fill="#d8282e"/>
<circle cx="566.70" cy="92.10" r="2.8" fill="#d8282e"/>
<circle cx="579.25" cy="89.70" r="2.8" fill="#d8282e"/>
<circle cx="591.80" cy="86.70" r="2.8" fill="#d8282e"/>
<circle cx="604.35" cy="85.10" r="2.8" fill="#d8282e"/>
<circle cx="616.90" cy="83.50" r="2.8" fill="#d8282e"/>
<circle cx="629.45" cy="78.70" r="2.8" fill="#d8282e"/>
<circle cx="642.00" cy="74.10" r="2.8" fill="#d8282e"/>
<circle cx="453.75" cy="122.90" r="2.8" fill="#e8822a"/>
<circle cx="466.30" cy="118.90" r="2.8" fill="#e8822a"/>
<circle cx="478.85" cy="115.50" r="2.8" fill="#e8822a"/>
<circle cx="491.40" cy="111.90" r="2.8" fill="#e8822a"/>
<circle cx="503.95" cy="105.90" r="2.8" fill="#e8822a"/>
<circle cx="516.50" cy="102.30" r="2.8" fill="#e8822a"/>
<circle cx="529.05" cy="99.30" r="2.8" fill="#e8822a"/>
<circle cx="541.60" cy="94.30" r="2.8" fill="#e8822a"/>
<circle cx="554.15" cy="87.70" r="2.8" fill="#e8822a"/>
<circle cx="566.70" cy="84.50" r="2.8" fill="#e8822a"/>
<circle cx="579.25" cy="78.70" r="2.8" fill="#e8822a"/>
<circle cx="591.80" cy="75.50" r="2.8" fill="#e8822a"/>
<circle cx="604.35" cy="73.30" r="2.8" fill="#e8822a"/>
<circle cx="616.90" cy="70.50" r="2.8" fill="#e8822a"/>
<circle cx="629.45" cy="67.10" r="2.8" fill="#e8822a"/>
<circle cx="642.00" cy="65.30" r="2.8" fill="#e8822a"/>
<rect x="451.25" y="122.30" width="5.0" height="4.4" fill="#000"/>
<rect x="463.80" y="117.90" width="5.0" height="4.4" fill="#000"/>
<rect x="476.35" y="115.70" width="5.0" height="4.4" fill="#000"/>
<rect x="488.90" y="113.30" width="5.0" height="4.4" fill="#000"/>
<rect x="501.45" y="108.30" width="5.0" height="4.4" fill="#000"/>
<rect x="514.00" y="104.70" width="5.0" height="4.4" fill="#000"/>
<rect x="526.55" y="100.10" width="5.0" height="4.4" fill="#000"/>
<rect x="539.10" y="95.30" width="5.0" height="4.4" fill="#000"/>
<rect x="551.65" y="90.90" width="5.0" height="4.4" fill="#000"/>
<rect x="564.20" y="86.30" width="5.0" height="4.4" fill="#000"/>
<rect x="576.75" y="80.70" width="5.0" height="4.4" fill="#000"/>
<rect x="589.30" y="75.70" width="5.0" height="4.4" fill="#000"/>
<rect x="601.85" y="72.50" width="5.0" height="4.4" fill="#000"/>
<rect x="614.40" y="68.50" width="5.0" height="4.4" fill="#000"/>
<rect x="626.95" y="65.50" width="5.0" height="4.4" fill="#000"/>
<rect x="639.50" y="63.10" width="5.0" height="4.4" fill="#000"/>
<path d="M441.2,45.900000000000006 V165.9 H642.5" fill="none" stroke="#000" stroke-width="1.35"/>
<line x1="435.70" y1="165.90" x2="441.20" y2="165.90" stroke="#000" stroke-width="1.2" />
<text transform="translate(432.90,169.30)" font-family="Liberation Sans" font-size="9.4" font-weight="bold" text-anchor="end" fill="#000" stroke="#000" stroke-width="0.15">0</text>
<line x1="435.70" y1="145.90" x2="441.20" y2="145.90" stroke="#000" stroke-width="1.2" />
<text transform="translate(432.90,149.30)" font-family="Liberation Sans" font-size="9.4" font-weight="bold" text-anchor="end" fill="#000" stroke="#000" stroke-width="0.15">10</text>
<line x1="435.70" y1="125.90" x2="441.20" y2="125.90" stroke="#000" stroke-width="1.2" />
<text transform="translate(432.90,129.30)" font-family="Liberation Sans" font-size="9.4" font-weight="bold" text-anchor="end" fill="#000" stroke="#000" stroke-width="0.15">20</text>
<line x1="435.70" y1="105.90" x2="441.20" y2="105.90" stroke="#000" stroke-width="1.2" />
<text transform="translate(432.90,109.30)" font-family="Liberation Sans" font-size="9.4" font-weight="bold" text-anchor="end" fill="#000" stroke="#000" stroke-width="0.15">30</text>
<line x1="435.70" y1="85.90" x2="441.20" y2="85.90" stroke="#000" stroke-width="1.2" />
<text transform="translate(432.90,89.30)" font-family="Liberation Sans" font-size="9.4" font-weight="bold" text-anchor="end" fill="#000" stroke="#000" stroke-width="0.15">40</text>
<line x1="435.70" y1="65.90" x2="441.20" y2="65.90" stroke="#000" stroke-width="1.2" />
<text transform="translate(432.90,69.30)" font-family="Liberation Sans" font-size="9.4" font-weight="bold" text-anchor="end" fill="#000" stroke="#000" stroke-width="0.15">50</text>
<line x1="435.70" y1="45.90" x2="441.20" y2="45.90" stroke="#000" stroke-width="1.2" />
<text transform="translate(432.90,49.30)" font-family="Liberation Sans" font-size="9.4" font-weight="bold" text-anchor="end" fill="#000" stroke="#000" stroke-width="0.15">60</text>
<line x1="441.20" y1="165.90" x2="441.20" y2="170.90" stroke="#000" stroke-width="1.2" />
<text transform="translate(441.20,181.00)" font-family="Liberation Sans" font-size="9.4" font-weight="bold" text-anchor="middle" fill="#000" stroke="#000" stroke-width="0.15">0</text>
<line x1="453.75" y1="165.90" x2="453.75" y2="170.90" stroke="#000" stroke-width="1.2" />
<text transform="translate(453.75,181.00)" font-family="Liberation Sans" font-size="9.4" font-weight="bold" text-anchor="middle" fill="#000" stroke="#000" stroke-width="0.15">1</text>
<line x1="466.30" y1="165.90" x2="466.30" y2="170.90" stroke="#000" stroke-width="1.2" />
<text transform="translate(466.30,181.00)" font-family="Liberation Sans" font-size="9.4" font-weight="bold" text-anchor="middle" fill="#000" stroke="#000" stroke-width="0.15">2</text>
<line x1="478.85" y1="165.90" x2="478.85" y2="170.90" stroke="#000" stroke-width="1.2" />
<text transform="translate(478.85,181.00)" font-family="Liberation Sans" font-size="9.4" font-weight="bold" text-anchor="middle" fill="#000" stroke="#000" stroke-width="0.15">3</text>
<line x1="491.40" y1="165.90" x2="491.40" y2="170.90" stroke="#000" stroke-width="1.2" />
<text transform="translate(491.40,181.00)" font-family="Liberation Sans" font-size="9.4" font-weight="bold" text-anchor="middle" fill="#000" stroke="#000" stroke-width="0.15">4</text>
<line x1="503.95" y1="165.90" x2="503.95" y2="170.90" stroke="#000" stroke-width="1.2" />
<text transform="translate(503.95,181.00)" font-family="Liberation Sans" font-size="9.4" font-weight="bold" text-anchor="middle" fill="#000" stroke="#000" stroke-width="0.15">5</text>
<line x1="516.50" y1="165.90" x2="516.50" y2="170.90" stroke="#000" stroke-width="1.2" />
<text transform="translate(516.50,181.00)" font-family="Liberation Sans" font-size="9.4" font-weight="bold" text-anchor="middle" fill="#000" stroke="#000" stroke-width="0.15">6</text>
<line x1="529.05" y1="165.90" x2="529.05" y2="170.90" stroke="#000" stroke-width="1.2" />
<text transform="translate(529.05,181.00)" font-family="Liberation Sans" font-size="9.4" font-weight="bold" text-anchor="middle" fill="#000" stroke="#000" stroke-width="0.15">7</text>
<line x1="541.60" y1="165.90" x2="541.60" y2="170.90" stroke="#000" stroke-width="1.2" />
<text transform="translate(541.60,181.00)" font-family="Liberation Sans" font-size="9.4" font-weight="bold" text-anchor="middle" fill="#000" stroke="#000" stroke-width="0.15">8</text>
<line x1="554.15" y1="165.90" x2="554.15" y2="170.90" stroke="#000" stroke-width="1.2" />
<text transform="translate(554.15,181.00)" font-family="Liberation Sans" font-size="9.4" font-weight="bold" text-anchor="middle" fill="#000" stroke="#000" stroke-width="0.15">9</text>
<line x1="566.70" y1="165.90" x2="566.70" y2="170.90" stroke="#000" stroke-width="1.2" />
<text transform="translate(566.70,181.00)" font-family="Liberation Sans" font-size="9.4" font-weight="bold" text-anchor="middle" fill="#000" stroke="#000" stroke-width="0.15">10</text>
<line x1="579.25" y1="165.90" x2="579.25" y2="170.90" stroke="#000" stroke-width="1.2" />
<text transform="translate(579.25,181.00)" font-family="Liberation Sans" font-size="9.4" font-weight="bold" text-anchor="middle" fill="#000" stroke="#000" stroke-width="0.15">11</text>
<line x1="591.80" y1="165.90" x2="591.80" y2="170.90" stroke="#000" stroke-width="1.2" />
<text transform="translate(591.80,181.00)" font-family="Liberation Sans" font-size="9.4" font-weight="bold" text-anchor="middle" fill="#000" stroke="#000" stroke-width="0.15">12</text>
<line x1="604.35" y1="165.90" x2="604.35" y2="170.90" stroke="#000" stroke-width="1.2" />
<text transform="translate(604.35,181.00)" font-family="Liberation Sans" font-size="9.4" font-weight="bold" text-anchor="middle" fill="#000" stroke="#000" stroke-width="0.15">13</text>
<line x1="616.90" y1="165.90" x2="616.90" y2="170.90" stroke="#000" stroke-width="1.2" />
<text transform="translate(616.90,181.00)" font-family="Liberation Sans" font-size="9.4" font-weight="bold" text-anchor="middle" fill="#000" stroke="#000" stroke-width="0.15">14</text>
<line x1="629.45" y1="165.90" x2="629.45" y2="170.90" stroke="#000" stroke-width="1.2" />
<text transform="translate(629.45,181.00)" font-family="Liberation Sans" font-size="9.4" font-weight="bold" text-anchor="middle" fill="#000" stroke="#000" stroke-width="0.15">15</text>
<line x1="642.00" y1="165.90" x2="642.00" y2="170.90" stroke="#000" stroke-width="1.2" />
<text transform="translate(642.00,181.00)" font-family="Liberation Sans" font-size="9.4" font-weight="bold" text-anchor="middle" fill="#000" stroke="#000" stroke-width="0.15">16</text>
<text transform="translate(541.60,196.00)" font-family="Liberation Sans" font-size="10.6" font-weight="bold" text-anchor="middle" fill="#000" stroke="#000" stroke-width="0.2">Week</text>
<text transform="translate(414.2,104.90) rotate(-90) scale(0.88,1)" font-family="Liberation Sans" font-size="11" font-weight="bold" text-anchor="middle" fill="#000" stroke="#000" stroke-width="0.2">Body weight(g)</text>
<line x1="453.80" y1="20.50" x2="468.30" y2="20.50" stroke="#999" stroke-width="0.8" stroke-dasharray="1.5,1"/>
<path d="M461.00,17.69 L463.60,22.37 L458.40,22.37 Z" fill="white" stroke="#000" stroke-width="0.7"/>
<text transform="translate(476.40,21.00)" font-family="Liberation Sans" font-size="7.1" font-weight="bold" text-anchor="start" fill="#000" stroke="#000" stroke-width="0.12">ND</text>
<line x1="453.80" y1="32.00" x2="468.30" y2="32.00" stroke="#e891a8" stroke-width="0.9" />
<path d="M461.00,34.48 L463.30,30.34 L458.70,30.34 Z" fill="#e891a8" stroke="#e891a8" stroke-width="0.5"/>
<text transform="translate(476.40,32.50)" font-family="Liberation Sans" font-size="7.1" font-weight="bold" text-anchor="start" fill="#000" stroke="#000" stroke-width="0.12">ND + <tspan font-family="Liberation Serif" font-weight="normal" font-size="8.6">α</tspan>-PCSK9 mAb 10 mg/kg</text>
<line x1="453.80" y1="44.20" x2="468.30" y2="44.20" stroke="#000" stroke-width="1" />
<rect x="458.4" y="41.6" width="5.2" height="5.2" fill="#000"/>
<text transform="translate(476.40,44.70)" font-family="Liberation Sans" font-size="7.1" font-weight="bold" text-anchor="start" fill="#000" stroke="#000" stroke-width="0.12">HFD</text>
<line x1="453.80" y1="55.20" x2="468.30" y2="55.20" stroke="#e8822a" stroke-width="1" />
<circle cx="461" cy="55.2" r="2.8" fill="#e8822a"/>
<text transform="translate(476.40,55.70)" font-family="Liberation Sans" font-size="7.1" font-weight="bold" text-anchor="start" fill="#000" stroke="#000" stroke-width="0.12">HFD + <tspan font-family="Liberation Serif" font-weight="normal" font-size="8.6">α</tspan>-PCSK9 mAb 3 mg/kg</text>
<line x1="453.80" y1="66.70" x2="468.30" y2="66.70" stroke="#d8282e" stroke-width="1.8" />
<circle cx="461" cy="66.7" r="2.8" fill="#d8282e"/>
<text transform="translate(476.40,67.20)" font-family="Liberation Sans" font-size="7.1" font-weight="bold" text-anchor="start" fill="#000" stroke="#000" stroke-width="0.12">HFD + <tspan font-family="Liberation Serif" font-weight="normal" font-size="8.6">α</tspan>-PCSK9 mAb 10 mg/kg</text>
<line x1="453.80" y1="78.00" x2="468.30" y2="78.00" stroke="#2d4fb0" stroke-width="1" />
<circle cx="461" cy="78" r="2.8" fill="#2d4fb0"/>
<text transform="translate(476.40,78.50)" font-family="Liberation Sans" font-size="7.1" font-weight="bold" text-anchor="start" fill="#000" stroke="#000" stroke-width="0.12">HFD + Statin</text>
<line x1="649.40" y1="63.30" x2="649.40" y2="75.50" stroke="#333" stroke-width="0.9" />
<text transform="translate(647.90,69.30) rotate(90)" font-family="Liberation Sans" font-size="7" font-weight="bold" text-anchor="middle" fill="#000" >**</text>
<line x1="657.50" y1="62.90" x2="657.50" y2="77.30" stroke="#333" stroke-width="0.9" />
<text transform="translate(656.20,69.40) rotate(90)" font-family="Liberation Sans" font-size="7" font-weight="bold" text-anchor="middle" fill="#000" >*</text>
<line x1="666.00" y1="61.20" x2="666.00" y2="107.40" stroke="#999" stroke-width="1.0" />
<text transform="translate(665.50,81.90) rotate(90)" font-family="Liberation Sans" font-size="7" font-weight="bold" text-anchor="middle" fill="#000" >****</text>
<ellipse cx="142.00" cy="304.70" rx="2.9" ry="2.15" fill="#000"/>
<ellipse cx="146.70" cy="304.70" rx="2.9" ry="2.15" fill="#000"/>
<ellipse cx="152.00" cy="301.10" rx="2.9" ry="2.15" fill="#000"/>
<ellipse cx="152.00" cy="306.70" rx="2.9" ry="2.15" fill="#000"/>
<ellipse cx="142.00" cy="310.40" rx="2.9" ry="2.15" fill="#000"/>
<circle transform="translate(165.30,307.70) scale(1.44,1)" r="2.1" fill="white" stroke="#000" stroke-width="1.1"/>
<circle transform="translate(170.40,308.70) scale(1.44,1)" r="2.1" fill="white" stroke="#000" stroke-width="1.1"/>
<circle transform="translate(174.70,309.10) scale(1.44,1)" r="2.1" fill="white" stroke="#000" stroke-width="1.1"/>
<circle transform="translate(177.10,310.00) scale(1.44,1)" r="2.1" fill="white" stroke="#000" stroke-width="1.1"/>
<circle transform="translate(167.70,314.90) scale(1.44,1)" r="2.1" fill="white" stroke="#000" stroke-width="1.1"/>
<circle transform="translate(172.70,313.10) scale(1.44,1)" r="2.1" fill="white" stroke="#000" stroke-width="1.1"/>
<circle transform="translate(169.30,311.30) scale(1.44,1)" r="2.1" fill="white" stroke="#000" stroke-width="1.1"/>
<circle transform="translate(166.00,311.00) scale(1.44,1)" r="2.1" fill="white" stroke="#000" stroke-width="1.1"/>
<path d="M185.80,267.00 L192.40,267.00 L189.10,271.00 Z" fill="#000"/>
<path d="M185.80,272.30 L192.40,272.30 L189.10,276.30 Z" fill="#000"/>
<path d="M185.80,277.00 L192.40,277.00 L189.10,281.00 Z" fill="#000"/>
<path d="M190.30,272.30 L196.90,272.30 L193.60,276.30 Z" fill="#000"/>
<path d="M195.40,263.00 L202.00,263.00 L198.70,267.00 Z" fill="#000"/>
<path d="M195.40,268.70 L202.00,268.70 L198.70,272.70 Z" fill="#000"/>
<path d="M195.40,275.00 L202.00,275.00 L198.70,279.00 Z" fill="#000"/>
<path transform="translate(212.60,253.90) scale(1.44,1)" d="M0,-1.9 L1.95,1.55 L-1.95,1.55 Z" fill="white" stroke="#000" stroke-width="1.1" stroke-miterlimit="2.5"/>
<path transform="translate(222.80,254.30) scale(1.44,1)" d="M0,-1.9 L1.95,1.55 L-1.95,1.55 Z" fill="white" stroke="#000" stroke-width="1.1" stroke-miterlimit="2.5"/>
<path transform="translate(212.60,270.80) scale(1.44,1)" d="M0,-1.9 L1.95,1.55 L-1.95,1.55 Z" fill="white" stroke="#000" stroke-width="1.1" stroke-miterlimit="2.5"/>
<path transform="translate(222.40,272.60) scale(1.44,1)" d="M0,-1.9 L1.95,1.55 L-1.95,1.55 Z" fill="white" stroke="#000" stroke-width="1.1" stroke-miterlimit="2.5"/>
<path transform="translate(217.70,285.70) scale(1.44,1)" d="M0,-1.9 L1.95,1.55 L-1.95,1.55 Z" fill="white" stroke="#000" stroke-width="1.1" stroke-miterlimit="2.5"/>
<path transform="translate(241.10,289.30) scale(1.44,1)" d="M0,1.9 L1.95,-1.55 L-1.95,-1.55 Z" fill="white" stroke="#000" stroke-width="1.1" stroke-miterlimit="2.5"/>
<path transform="translate(236.70,295.90) scale(1.44,1)" d="M0,1.9 L1.95,-1.55 L-1.95,-1.55 Z" fill="white" stroke="#000" stroke-width="1.1" stroke-miterlimit="2.5"/>
<path transform="translate(246.20,295.90) scale(1.44,1)" d="M0,1.9 L1.95,-1.55 L-1.95,-1.55 Z" fill="white" stroke="#000" stroke-width="1.1" stroke-miterlimit="2.5"/>
<path transform="translate(238.90,301.80) scale(1.44,1)" d="M0,1.9 L1.95,-1.55 L-1.95,-1.55 Z" fill="white" stroke="#000" stroke-width="1.1" stroke-miterlimit="2.5"/>
<path transform="translate(243.30,301.00) scale(1.44,1)" d="M0,1.9 L1.95,-1.55 L-1.95,-1.55 Z" fill="white" stroke="#000" stroke-width="1.1" stroke-miterlimit="2.5"/>
<path transform="translate(241.10,293.70) scale(1.44,1)" d="M0,1.9 L1.95,-1.55 L-1.95,-1.55 Z" fill="white" stroke="#000" stroke-width="1.1" stroke-miterlimit="2.5"/>
<rect x="255.80" y="271.30" width="5.6" height="4.0" fill="#000"/>
<rect x="261.20" y="272.30" width="5.6" height="4.0" fill="#000"/>
<rect x="266.80" y="271.30" width="5.6" height="4.0" fill="#000"/>
<rect x="261.70" y="282.20" width="5.6" height="4.0" fill="#000"/>
<rect x="261.70" y="299.80" width="5.6" height="4.0" fill="#000"/>
<rect x="261.70" y="305.60" width="5.6" height="4.0" fill="#000"/>
<line x1="146.70" y1="303.50" x2="146.70" y2="308.50" stroke="#000" stroke-width="1.1" />
<line x1="142.22" y1="303.50" x2="151.18" y2="303.50" stroke="#000" stroke-width="1.0" />
<line x1="142.22" y1="308.50" x2="151.18" y2="308.50" stroke="#000" stroke-width="1.0" />
<line x1="138.70" y1="306.00" x2="154.70" y2="306.00" stroke="#000" stroke-width="1.1" />
<line x1="170.25" y1="309.50" x2="170.25" y2="312.50" stroke="#000" stroke-width="1.1" />
<line x1="165.91" y1="309.50" x2="174.59" y2="309.50" stroke="#000" stroke-width="1.0" />
<line x1="165.91" y1="312.50" x2="174.59" y2="312.50" stroke="#000" stroke-width="1.0" />
<line x1="162.50" y1="311.00" x2="178.00" y2="311.00" stroke="#000" stroke-width="1.1" />
<line x1="193.75" y1="270.50" x2="193.75" y2="274.00" stroke="#888" stroke-width="1.1" />
<line x1="189.41" y1="270.50" x2="198.09" y2="270.50" stroke="#888" stroke-width="1.0" />
<line x1="189.41" y1="274.00" x2="198.09" y2="274.00" stroke="#888" stroke-width="1.0" />
<line x1="186.00" y1="272.30" x2="201.50" y2="272.30" stroke="#888" stroke-width="1.1" />
<line x1="217.65" y1="261.20" x2="217.65" y2="272.80" stroke="#000" stroke-width="1.1" />
<line x1="213.37" y1="261.20" x2="221.93" y2="261.20" stroke="#000" stroke-width="1.0" />
<line x1="213.37" y1="272.80" x2="221.93" y2="272.80" stroke="#000" stroke-width="1.0" />
<line x1="210.00" y1="267.00" x2="225.30" y2="267.00" stroke="#000" stroke-width="1.1" />
<line x1="241.05" y1="294.50" x2="241.05" y2="298.50" stroke="#888" stroke-width="1.1" />
<line x1="236.71" y1="294.50" x2="245.39" y2="294.50" stroke="#888" stroke-width="1.0" />
<line x1="236.71" y1="298.50" x2="245.39" y2="298.50" stroke="#888" stroke-width="1.0" />
<line x1="233.30" y1="296.60" x2="248.80" y2="296.60" stroke="#000" stroke-width="1.1" />
<line x1="264.85" y1="280.10" x2="264.85" y2="292.30" stroke="#000" stroke-width="1.1" />
<line x1="260.57" y1="280.10" x2="269.13" y2="280.10" stroke="#000" stroke-width="1.0" />
<line x1="260.57" y1="292.30" x2="269.13" y2="292.30" stroke="#000" stroke-width="1.0" />
<line x1="257.20" y1="286.40" x2="272.50" y2="286.40" stroke="#000" stroke-width="1.1" />
<path d="M131.4,228.30 V333.3 H280.8" fill="none" stroke="#000" stroke-width="1.3"/>
<line x1="125.40" y1="333.30" x2="131.40" y2="333.30" stroke="#000" stroke-width="1.15" />
<text transform="translate(122.10,336.60) scale(1.335,1.0)" font-family="Liberation Sans" font-size="8.2" font-weight="bold" text-anchor="end" fill="#000" stroke="#000" stroke-width="0.12">0</text>
<line x1="125.40" y1="312.30" x2="131.40" y2="312.30" stroke="#000" stroke-width="1.15" />
<text transform="translate(122.10,315.60) scale(1.335,1.0)" font-family="Liberation Sans" font-size="8.2" font-weight="bold" text-anchor="end" fill="#000" stroke="#000" stroke-width="0.12">50</text>
<line x1="125.40" y1="291.30" x2="131.40" y2="291.30" stroke="#000" stroke-width="1.15" />
<text transform="translate(122.10,294.60) scale(1.335,1.0)" font-family="Liberation Sans" font-size="8.2" font-weight="bold" text-anchor="end" fill="#000" stroke="#000" stroke-width="0.12">100</text>
<line x1="125.40" y1="270.30" x2="131.40" y2="270.30" stroke="#000" stroke-width="1.15" />
<text transform="translate(122.10,273.60) scale(1.335,1.0)" font-family="Liberation Sans" font-size="8.2" font-weight="bold" text-anchor="end" fill="#000" stroke="#000" stroke-width="0.12">150</text>
<line x1="125.40" y1="249.30" x2="131.40" y2="249.30" stroke="#000" stroke-width="1.15" />
<text transform="translate(122.10,252.60) scale(1.335,1.0)" font-family="Liberation Sans" font-size="8.2" font-weight="bold" text-anchor="end" fill="#000" stroke="#000" stroke-width="0.12">200</text>
<line x1="125.40" y1="228.30" x2="131.40" y2="228.30" stroke="#000" stroke-width="1.15" />
<text transform="translate(122.10,231.60) scale(1.335,1.0)" font-family="Liberation Sans" font-size="8.2" font-weight="bold" text-anchor="end" fill="#000" stroke="#000" stroke-width="0.12">250</text>
<line x1="146.70" y1="333.30" x2="146.70" y2="337.80" stroke="#000" stroke-width="1.15" />
<text transform="translate(148.90,344.70) scale(1.44,1) rotate(-45)" font-family="Liberation Sans" font-size="7.85" font-weight="bold" text-anchor="end" fill="#000" stroke="#000" stroke-width="0.1">ND</text>
<line x1="170.30" y1="333.30" x2="170.30" y2="337.80" stroke="#000" stroke-width="1.15" />
<text transform="translate(172.50,344.70) scale(1.44,1) rotate(-45)" font-family="Liberation Sans" font-size="7.85" font-weight="bold" text-anchor="end" fill="#000" stroke="#000" stroke-width="0.1">ND + α-PCSK9 mAb 10 mg/kg</text>
<line x1="193.80" y1="333.30" x2="193.80" y2="337.80" stroke="#000" stroke-width="1.15" />
<text transform="translate(196.00,344.70) scale(1.44,1) rotate(-45)" font-family="Liberation Sans" font-size="7.85" font-weight="bold" text-anchor="end" fill="#000" stroke="#000" stroke-width="0.1">HFD</text>
<line x1="217.40" y1="333.30" x2="217.40" y2="337.80" stroke="#000" stroke-width="1.15" />
<text transform="translate(219.60,344.70) scale(1.44,1) rotate(-45)" font-family="Liberation Sans" font-size="7.85" font-weight="bold" text-anchor="end" fill="#000" stroke="#000" stroke-width="0.1">HFD + α-PCSK9 mAb 3 mg/kg</text>
<line x1="241.10" y1="333.30" x2="241.10" y2="337.80" stroke="#000" stroke-width="1.15" />
<text transform="translate(243.30,344.70) scale(1.44,1) rotate(-45)" font-family="Liberation Sans" font-size="7.85" font-weight="bold" text-anchor="end" fill="#000" stroke="#000" stroke-width="0.1">HFD + α-PCSK9 mAb10 mg/kg</text>
<line x1="264.70" y1="333.30" x2="264.70" y2="337.80" stroke="#000" stroke-width="1.15" />
<text transform="translate(266.90,344.70) scale(1.44,1) rotate(-45)" font-family="Liberation Sans" font-size="7.85" font-weight="bold" text-anchor="end" fill="#000" stroke="#000" stroke-width="0.1">HFD + Statin</text>
<text transform="translate(95.00,280.80) scale(1.44,1) rotate(-90)" font-family="Liberation Sans" font-size="8.4" font-weight="bold" text-anchor="middle" fill="#000" stroke="#000" stroke-width="0.1">Serum Cholesterol(mg/dl)</text>
<line x1="146.70" y1="240.90" x2="191.30" y2="240.90" stroke="#444" stroke-width="1.1" />
<text transform="translate(169.00,242.20) scale(1.44,1)" font-family="Liberation Sans" font-size="16" font-weight="bold" text-anchor="middle" fill="#000">***</text>
<line x1="196.60" y1="241.20" x2="241.80" y2="241.20" stroke="#444" stroke-width="1.1" />
<text transform="translate(219.00,242.20) scale(1.44,1)" font-family="Liberation Sans" font-size="16" font-weight="bold" text-anchor="middle" fill="#000">***</text>
<ellipse cx="487.30" cy="307.70" rx="2.9" ry="2.15" fill="#000"/>
<ellipse cx="482.70" cy="314.10" rx="2.9" ry="2.15" fill="#000"/>
<ellipse cx="487.30" cy="314.10" rx="2.9" ry="2.15" fill="#000"/>
<ellipse cx="492.70" cy="315.00" rx="2.9" ry="2.15" fill="#000"/>
<ellipse cx="487.30" cy="317.70" rx="2.9" ry="2.15" fill="#000"/>
<ellipse cx="487.30" cy="327.70" rx="2.9" ry="2.15" fill="#000"/>
<circle transform="translate(511.30,270.30) scale(1.44,1)" r="2.1" fill="white" stroke="#000" stroke-width="1.1"/>
<circle transform="translate(511.30,278.30) scale(1.44,1)" r="2.1" fill="white" stroke="#000" stroke-width="1.1"/>
<circle transform="translate(511.30,288.70) scale(1.44,1)" r="2.1" fill="white" stroke="#000" stroke-width="1.1"/>
<circle transform="translate(506.30,313.00) scale(1.44,1)" r="2.1" fill="white" stroke="#000" stroke-width="1.1"/>
<circle transform="translate(516.00,313.70) scale(1.44,1)" r="2.1" fill="white" stroke="#000" stroke-width="1.1"/>
<circle transform="translate(511.30,318.10) scale(1.44,1)" r="2.1" fill="white" stroke="#000" stroke-width="1.1"/>
<path d="M526.70,266.30 L533.30,266.30 L530.00,270.30 Z" fill="#000"/>
<path d="M531.40,266.00 L538.00,266.00 L534.70,270.00 Z" fill="#000"/>
<path d="M536.00,266.30 L542.60,266.30 L539.30,270.30 Z" fill="#000"/>
<path d="M531.40,269.30 L538.00,269.30 L534.70,273.30 Z" fill="#000"/>
<path d="M531.60,287.00 L538.20,287.00 L534.90,291.00 Z" fill="#000"/>
<path transform="translate(558.40,258.30) scale(1.44,1)" d="M0,-1.9 L1.95,1.55 L-1.95,1.55 Z" fill="white" stroke="#000" stroke-width="1.1" stroke-miterlimit="2.5"/>
<path transform="translate(553.30,285.70) scale(1.44,1)" d="M0,-1.9 L1.95,1.55 L-1.95,1.55 Z" fill="white" stroke="#000" stroke-width="1.1" stroke-miterlimit="2.5"/>
<path transform="translate(563.70,288.30) scale(1.44,1)" d="M0,-1.9 L1.95,1.55 L-1.95,1.55 Z" fill="white" stroke="#000" stroke-width="1.1" stroke-miterlimit="2.5"/>
<path transform="translate(558.40,301.70) scale(1.44,1)" d="M0,-1.9 L1.95,1.55 L-1.95,1.55 Z" fill="white" stroke="#000" stroke-width="1.1" stroke-miterlimit="2.5"/>
<path transform="translate(579.30,301.70) scale(1.44,1)" d="M0,1.9 L1.95,-1.55 L-1.95,-1.55 Z" fill="white" stroke="#000" stroke-width="1.1" stroke-miterlimit="2.5"/>
<path transform="translate(584.70,303.70) scale(1.44,1)" d="M0,1.9 L1.95,-1.55 L-1.95,-1.55 Z" fill="white" stroke="#000" stroke-width="1.1" stroke-miterlimit="2.5"/>
<path transform="translate(577.30,313.70) scale(1.44,1)" d="M0,1.9 L1.95,-1.55 L-1.95,-1.55 Z" fill="white" stroke="#000" stroke-width="1.1" stroke-miterlimit="2.5"/>
<path transform="translate(586.70,313.00) scale(1.44,1)" d="M0,1.9 L1.95,-1.55 L-1.95,-1.55 Z" fill="white" stroke="#000" stroke-width="1.1" stroke-miterlimit="2.5"/>
<path transform="translate(582.00,310.30) scale(1.44,1)" d="M0,1.9 L1.95,-1.55 L-1.95,-1.55 Z" fill="white" stroke="#000" stroke-width="1.1" stroke-miterlimit="2.5"/>
<rect x="597.50" y="243.70" width="5.6" height="4.0" fill="#000"/>
<rect x="607.50" y="244.30" width="5.6" height="4.0" fill="#000"/>
<rect x="602.50" y="250.30" width="5.6" height="4.0" fill="#000"/>
<rect x="602.50" y="278.30" width="5.6" height="4.0" fill="#000"/>
<rect x="602.50" y="292.60" width="5.6" height="4.0" fill="#000"/>
<line x1="487.65" y1="313.50" x2="487.65" y2="319.00" stroke="#888" stroke-width="1.1" />
<line x1="483.37" y1="313.50" x2="491.93" y2="313.50" stroke="#888" stroke-width="1.0" />
<line x1="483.37" y1="319.00" x2="491.93" y2="319.00" stroke="#888" stroke-width="1.0" />
<line x1="480.00" y1="315.70" x2="495.30" y2="315.70" stroke="#000" stroke-width="1.1" />
<line x1="511.35" y1="288.70" x2="511.35" y2="305.40" stroke="#555" stroke-width="1.1" />
<line x1="507.23" y1="288.70" x2="515.47" y2="288.70" stroke="#555" stroke-width="1.0" />
<line x1="507.23" y1="305.40" x2="515.47" y2="305.40" stroke="#555" stroke-width="1.0" />
<line x1="504.00" y1="297.00" x2="518.70" y2="297.00" stroke="#555" stroke-width="1.1" />
<line x1="535.00" y1="270.30" x2="535.00" y2="277.00" stroke="#888" stroke-width="1.1" />
<line x1="530.69" y1="270.30" x2="539.31" y2="270.30" stroke="#888" stroke-width="1.0" />
<line x1="530.69" y1="277.00" x2="539.31" y2="277.00" stroke="#888" stroke-width="1.0" />
<line x1="527.30" y1="272.60" x2="542.70" y2="272.60" stroke="#000" stroke-width="1.1" />
<line x1="558.20" y1="274.30" x2="558.20" y2="292.30" stroke="#000" stroke-width="1.1" />
<line x1="553.83" y1="274.30" x2="562.57" y2="274.30" stroke="#000" stroke-width="1.0" />
<line x1="553.83" y1="292.30" x2="562.57" y2="292.30" stroke="#000" stroke-width="1.0" />
<line x1="550.40" y1="283.30" x2="566.00" y2="283.30" stroke="#000" stroke-width="1.1" />
<line x1="582.00" y1="306.50" x2="582.00" y2="311.00" stroke="#888" stroke-width="1.1" />
<line x1="577.52" y1="306.50" x2="586.48" y2="306.50" stroke="#888" stroke-width="1.0" />
<line x1="577.52" y1="311.00" x2="586.48" y2="311.00" stroke="#888" stroke-width="1.0" />
<line x1="574.00" y1="308.70" x2="590.00" y2="308.70" stroke="#000" stroke-width="1.1" />
<line x1="605.30" y1="254.00" x2="605.30" y2="274.00" stroke="#000" stroke-width="1.1" />
<line x1="600.99" y1="254.00" x2="609.61" y2="254.00" stroke="#000" stroke-width="1.0" />
<line x1="600.99" y1="274.00" x2="609.61" y2="274.00" stroke="#000" stroke-width="1.0" />
<line x1="597.60" y1="264.10" x2="613.00" y2="264.10" stroke="#000" stroke-width="1.1" />
<path d="M472.0,237.50 V341.5 H621.3" fill="none" stroke="#000" stroke-width="1.3"/>
<line x1="466.00" y1="341.50" x2="472.00" y2="341.50" stroke="#000" stroke-width="1.15" />
<text transform="translate(462.70,344.80) scale(1.335,1.0)" font-family="Liberation Sans" font-size="8.2" font-weight="bold" text-anchor="end" fill="#000" stroke="#000" stroke-width="0.12">0</text>
<line x1="466.00" y1="315.50" x2="472.00" y2="315.50" stroke="#000" stroke-width="1.15" />
<text transform="translate(462.70,318.80) scale(1.335,1.0)" font-family="Liberation Sans" font-size="8.2" font-weight="bold" text-anchor="end" fill="#000" stroke="#000" stroke-width="0.12">100</text>
<line x1="466.00" y1="289.50" x2="472.00" y2="289.50" stroke="#000" stroke-width="1.15" />
<text transform="translate(462.70,292.80) scale(1.335,1.0)" font-family="Liberation Sans" font-size="8.2" font-weight="bold" text-anchor="end" fill="#000" stroke="#000" stroke-width="0.12">200</text>
<line x1="466.00" y1="263.50" x2="472.00" y2="263.50" stroke="#000" stroke-width="1.15" />
<text transform="translate(462.70,266.80) scale(1.335,1.0)" font-family="Liberation Sans" font-size="8.2" font-weight="bold" text-anchor="end" fill="#000" stroke="#000" stroke-width="0.12">300</text>
<line x1="466.00" y1="237.50" x2="472.00" y2="237.50" stroke="#000" stroke-width="1.15" />
<text transform="translate(462.70,240.80) scale(1.335,1.0)" font-family="Liberation Sans" font-size="8.2" font-weight="bold" text-anchor="end" fill="#000" stroke="#000" stroke-width="0.12">400</text>
<line x1="487.50" y1="341.50" x2="487.50" y2="346.00" stroke="#000" stroke-width="1.15" />
<text transform="translate(489.70,352.90) scale(1.44,1) rotate(-45)" font-family="Liberation Sans" font-size="7.85" font-weight="bold" text-anchor="end" fill="#000" stroke="#000" stroke-width="0.1">ND</text>
<line x1="511.20" y1="341.50" x2="511.20" y2="346.00" stroke="#000" stroke-width="1.15" />
<text transform="translate(513.40,352.90) scale(1.44,1) rotate(-45)" font-family="Liberation Sans" font-size="7.85" font-weight="bold" text-anchor="end" fill="#000" stroke="#000" stroke-width="0.1">ND + α-PCSK9 mAb 10 mg/kg</text>
<line x1="534.80" y1="341.50" x2="534.80" y2="346.00" stroke="#000" stroke-width="1.15" />
<text transform="translate(537.00,352.90) scale(1.44,1) rotate(-45)" font-family="Liberation Sans" font-size="7.85" font-weight="bold" text-anchor="end" fill="#000" stroke="#000" stroke-width="0.1">HFD</text>
<line x1="558.30" y1="341.50" x2="558.30" y2="346.00" stroke="#000" stroke-width="1.15" />
<text transform="translate(560.50,352.90) scale(1.44,1) rotate(-45)" font-family="Liberation Sans" font-size="7.85" font-weight="bold" text-anchor="end" fill="#000" stroke="#000" stroke-width="0.1">HFD + α-PCSK9 mAb 3 mg/kg</text>
<line x1="582.00" y1="341.50" x2="582.00" y2="346.00" stroke="#000" stroke-width="1.15" />
<text transform="translate(584.20,352.90) scale(1.44,1) rotate(-45)" font-family="Liberation Sans" font-size="7.85" font-weight="bold" text-anchor="end" fill="#000" stroke="#000" stroke-width="0.1">HFD + α-PCSK9 mAb10 mg/kg</text>
<line x1="605.50" y1="341.50" x2="605.50" y2="346.00" stroke="#000" stroke-width="1.15" />
<text transform="translate(607.70,352.90) scale(1.44,1) rotate(-45)" font-family="Liberation Sans" font-size="7.85" font-weight="bold" text-anchor="end" fill="#000" stroke="#000" stroke-width="0.1">HFD + Statin</text>
<text transform="translate(435.00,289.50) scale(1.44,1) rotate(-90)" font-family="Liberation Sans" font-size="8.4" font-weight="bold" text-anchor="middle" fill="#000" stroke="#000" stroke-width="0.1">Serum Triglyceride(mg/dl)</text>
<line x1="487.30" y1="233.70" x2="532.40" y2="233.70" stroke="#444" stroke-width="1.1" />
<text transform="translate(510.00,235.20) scale(1.44,1)" font-family="Liberation Sans" font-size="16" font-weight="bold" text-anchor="middle" fill="#000">**</text>
<line x1="537.30" y1="233.70" x2="582.40" y2="233.70" stroke="#444" stroke-width="1.1" />
<text transform="translate(559.70,235.20) scale(1.44,1)" font-family="Liberation Sans" font-size="16" font-weight="bold" text-anchor="middle" fill="#000">*</text>
<ellipse cx="142.10" cy="534.30" rx="2.9" ry="2.15" fill="#000"/>
<ellipse cx="151.90" cy="535.20" rx="2.9" ry="2.15" fill="#000"/>
<ellipse cx="142.10" cy="538.90" rx="2.9" ry="2.15" fill="#000"/>
<ellipse cx="146.70" cy="557.30" rx="2.9" ry="2.15" fill="#000"/>
<ellipse cx="146.70" cy="566.30" rx="2.9" ry="2.15" fill="#000"/>
<circle transform="translate(164.30,500.20) scale(1.44,1)" r="2.1" fill="white" stroke="#000" stroke-width="1.1"/>
<circle transform="translate(169.40,500.20) scale(1.44,1)" r="2.1" fill="white" stroke="#000" stroke-width="1.1"/>
<circle transform="translate(168.20,504.40) scale(1.44,1)" r="2.1" fill="white" stroke="#000" stroke-width="1.1"/>
<circle transform="translate(172.90,503.90) scale(1.44,1)" r="2.1" fill="white" stroke="#000" stroke-width="1.1"/>
<circle transform="translate(176.70,503.90) scale(1.44,1)" r="2.1" fill="white" stroke="#000" stroke-width="1.1"/>
<circle transform="translate(170.50,523.10) scale(1.44,1)" r="2.1" fill="white" stroke="#000" stroke-width="1.1"/>
<circle transform="translate(170.50,541.40) scale(1.44,1)" r="2.1" fill="white" stroke="#000" stroke-width="1.1"/>
<circle transform="translate(170.50,551.40) scale(1.44,1)" r="2.1" fill="white" stroke="#000" stroke-width="1.1"/>
<path d="M185.90,498.30 L192.50,498.30 L189.20,502.30 Z" fill="#000"/>
<path d="M190.50,498.30 L197.10,498.30 L193.80,502.30 Z" fill="#000"/>
<path d="M195.20,498.30 L201.80,498.30 L198.50,502.30 Z" fill="#000"/>
<path d="M191.00,504.00 L197.60,504.00 L194.30,508.00 Z" fill="#000"/>
<path d="M188.50,518.60 L195.10,518.60 L191.80,522.60 Z" fill="#000"/>
<path d="M193.20,518.60 L199.80,518.60 L196.50,522.60 Z" fill="#000"/>
<path transform="translate(213.00,500.50) scale(1.44,1)" d="M0,-1.9 L1.95,1.55 L-1.95,1.55 Z" fill="white" stroke="#000" stroke-width="1.1" stroke-miterlimit="2.5"/>
<path transform="translate(223.00,500.50) scale(1.44,1)" d="M0,-1.9 L1.95,1.55 L-1.95,1.55 Z" fill="white" stroke="#000" stroke-width="1.1" stroke-miterlimit="2.5"/>
<path transform="translate(217.70,509.90) scale(1.44,1)" d="M0,-1.9 L1.95,1.55 L-1.95,1.55 Z" fill="white" stroke="#000" stroke-width="1.1" stroke-miterlimit="2.5"/>
<path transform="translate(217.70,515.30) scale(1.44,1)" d="M0,-1.9 L1.95,1.55 L-1.95,1.55 Z" fill="white" stroke="#000" stroke-width="1.1" stroke-miterlimit="2.5"/>
<path transform="translate(217.70,532.70) scale(1.44,1)" d="M0,-1.9 L1.95,1.55 L-1.95,1.55 Z" fill="white" stroke="#000" stroke-width="1.1" stroke-miterlimit="2.5"/>
<path transform="translate(241.30,534.00) scale(1.44,1)" d="M0,1.9 L1.95,-1.55 L-1.95,-1.55 Z" fill="white" stroke="#000" stroke-width="1.1" stroke-miterlimit="2.5"/>
<path transform="translate(241.30,540.20) scale(1.44,1)" d="M0,1.9 L1.95,-1.55 L-1.95,-1.55 Z" fill="white" stroke="#000" stroke-width="1.1" stroke-miterlimit="2.5"/>
<path transform="translate(236.30,551.90) scale(1.44,1)" d="M0,1.9 L1.95,-1.55 L-1.95,-1.55 Z" fill="white" stroke="#000" stroke-width="1.1" stroke-miterlimit="2.5"/>
<path transform="translate(246.00,549.50) scale(1.44,1)" d="M0,1.9 L1.95,-1.55 L-1.95,-1.55 Z" fill="white" stroke="#000" stroke-width="1.1" stroke-miterlimit="2.5"/>
<path transform="translate(246.00,559.60) scale(1.44,1)" d="M0,1.9 L1.95,-1.55 L-1.95,-1.55 Z" fill="white" stroke="#000" stroke-width="1.1" stroke-miterlimit="2.5"/>
<path transform="translate(236.30,563.50) scale(1.44,1)" d="M0,1.9 L1.95,-1.55 L-1.95,-1.55 Z" fill="white" stroke="#000" stroke-width="1.1" stroke-miterlimit="2.5"/>
<rect x="261.80" y="540.10" width="5.6" height="4.0" fill="#000"/>
<rect x="256.90" y="545.70" width="5.6" height="4.0" fill="#000"/>
<rect x="261.80" y="546.80" width="5.6" height="4.0" fill="#000"/>
<rect x="267.30" y="547.50" width="5.6" height="4.0" fill="#000"/>
<rect x="261.80" y="559.70" width="5.6" height="4.0" fill="#000"/>
<line x1="146.95" y1="539.80" x2="146.95" y2="552.60" stroke="#999" stroke-width="1.1" />
<line x1="142.72" y1="539.80" x2="151.18" y2="539.80" stroke="#999" stroke-width="1.0" />
<line x1="142.72" y1="552.60" x2="151.18" y2="552.60" stroke="#999" stroke-width="1.0" />
<line x1="139.40" y1="546.40" x2="154.50" y2="546.40" stroke="#000" stroke-width="1.1" />
<line x1="170.75" y1="509.00" x2="170.75" y2="523.00" stroke="#000" stroke-width="1.1" />
<line x1="166.52" y1="509.00" x2="174.98" y2="509.00" stroke="#000" stroke-width="1.0" />
<line x1="166.52" y1="523.00" x2="174.98" y2="523.00" stroke="#000" stroke-width="1.0" />
<line x1="163.20" y1="516.10" x2="178.30" y2="516.10" stroke="#000" stroke-width="1.1" />
<line x1="193.80" y1="505.00" x2="193.80" y2="514.00" stroke="#999" stroke-width="1.1" />
<line x1="189.43" y1="505.00" x2="198.17" y2="505.00" stroke="#999" stroke-width="1.0" />
<line x1="189.43" y1="514.00" x2="198.17" y2="514.00" stroke="#999" stroke-width="1.0" />
<line x1="186.00" y1="508.30" x2="201.60" y2="508.30" stroke="#000" stroke-width="1.1" />
<line x1="217.70" y1="505.50" x2="217.70" y2="517.70" stroke="#999" stroke-width="1.1" />
<line x1="213.33" y1="505.50" x2="222.07" y2="505.50" stroke="#999" stroke-width="1.0" />
<line x1="213.33" y1="517.70" x2="222.07" y2="517.70" stroke="#999" stroke-width="1.0" />
<line x1="209.90" y1="511.40" x2="225.50" y2="511.40" stroke="#000" stroke-width="1.1" />
<line x1="241.15" y1="545.50" x2="241.15" y2="555.50" stroke="#999" stroke-width="1.1" />
<line x1="236.70" y1="545.50" x2="245.60" y2="545.50" stroke="#999" stroke-width="1.0" />
<line x1="236.70" y1="555.50" x2="245.60" y2="555.50" stroke="#999" stroke-width="1.0" />
<line x1="233.20" y1="550.80" x2="249.10" y2="550.80" stroke="#444" stroke-width="1.1" />
<line x1="264.80" y1="546.00" x2="264.80" y2="553.50" stroke="#000" stroke-width="1.1" />
<line x1="260.54" y1="546.00" x2="269.06" y2="546.00" stroke="#000" stroke-width="1.0" />
<line x1="260.54" y1="553.50" x2="269.06" y2="553.50" stroke="#000" stroke-width="1.0" />
<line x1="257.20" y1="549.20" x2="272.40" y2="549.20" stroke="#000" stroke-width="1.1" />
<path d="M130.9,474.10 V578.7 H280.5" fill="none" stroke="#000" stroke-width="1.3"/>
<line x1="124.90" y1="578.70" x2="130.90" y2="578.70" stroke="#000" stroke-width="1.15" />
<text transform="translate(121.60,582.00) scale(1.335,1.0)" font-family="Liberation Sans" font-size="8.2" font-weight="bold" text-anchor="end" fill="#000" stroke="#000" stroke-width="0.12">0</text>
<line x1="124.90" y1="552.55" x2="130.90" y2="552.55" stroke="#000" stroke-width="1.15" />
<text transform="translate(121.60,555.85) scale(1.335,1.0)" font-family="Liberation Sans" font-size="8.2" font-weight="bold" text-anchor="end" fill="#000" stroke="#000" stroke-width="0.12">200</text>
<line x1="124.90" y1="526.40" x2="130.90" y2="526.40" stroke="#000" stroke-width="1.15" />
<text transform="translate(121.60,529.70) scale(1.335,1.0)" font-family="Liberation Sans" font-size="8.2" font-weight="bold" text-anchor="end" fill="#000" stroke="#000" stroke-width="0.12">400</text>
<line x1="124.90" y1="500.25" x2="130.90" y2="500.25" stroke="#000" stroke-width="1.15" />
<text transform="translate(121.60,503.55) scale(1.335,1.0)" font-family="Liberation Sans" font-size="8.2" font-weight="bold" text-anchor="end" fill="#000" stroke="#000" stroke-width="0.12">600</text>
<line x1="124.90" y1="474.10" x2="130.90" y2="474.10" stroke="#000" stroke-width="1.15" />
<text transform="translate(121.60,477.40) scale(1.335,1.0)" font-family="Liberation Sans" font-size="8.2" font-weight="bold" text-anchor="end" fill="#000" stroke="#000" stroke-width="0.12">800</text>
<line x1="146.70" y1="578.70" x2="146.70" y2="583.20" stroke="#000" stroke-width="1.15" />
<text transform="translate(148.90,590.10) scale(1.44,1) rotate(-45)" font-family="Liberation Sans" font-size="7.85" font-weight="bold" text-anchor="end" fill="#000" stroke="#000" stroke-width="0.1">ND</text>
<line x1="170.30" y1="578.70" x2="170.30" y2="583.20" stroke="#000" stroke-width="1.15" />
<text transform="translate(172.50,590.10) scale(1.44,1) rotate(-45)" font-family="Liberation Sans" font-size="7.85" font-weight="bold" text-anchor="end" fill="#000" stroke="#000" stroke-width="0.1">ND + α-PCSK9 mAb 10 mg/kg</text>
<line x1="193.80" y1="578.70" x2="193.80" y2="583.20" stroke="#000" stroke-width="1.15" />
<text transform="translate(196.00,590.10) scale(1.44,1) rotate(-45)" font-family="Liberation Sans" font-size="7.85" font-weight="bold" text-anchor="end" fill="#000" stroke="#000" stroke-width="0.1">HFD</text>
<line x1="217.50" y1="578.70" x2="217.50" y2="583.20" stroke="#000" stroke-width="1.15" />
<text transform="translate(219.70,590.10) scale(1.44,1) rotate(-45)" font-family="Liberation Sans" font-size="7.85" font-weight="bold" text-anchor="end" fill="#000" stroke="#000" stroke-width="0.1">HFD + α-PCSK9 mAb 3 mg/kg</text>
<line x1="241.10" y1="578.70" x2="241.10" y2="583.20" stroke="#000" stroke-width="1.15" />
<text transform="translate(243.30,590.10) scale(1.44,1) rotate(-45)" font-family="Liberation Sans" font-size="7.85" font-weight="bold" text-anchor="end" fill="#000" stroke="#000" stroke-width="0.1">HFD + α-PCSK9 mAb10 mg/kg</text>
<line x1="264.60" y1="578.70" x2="264.60" y2="583.20" stroke="#000" stroke-width="1.15" />
<text transform="translate(266.80,590.10) scale(1.44,1) rotate(-45)" font-family="Liberation Sans" font-size="7.85" font-weight="bold" text-anchor="end" fill="#000" stroke="#000" stroke-width="0.1">HFD + Statin</text>
<text transform="translate(95.50,526.40) scale(1.44,1) rotate(-90)" font-family="Liberation Sans" font-size="8.4" font-weight="bold" text-anchor="middle" fill="#000" stroke="#000" stroke-width="0.1">Serum Glucose(mg/dl)</text>
<line x1="146.40" y1="466.60" x2="191.50" y2="466.60" stroke="#444" stroke-width="1.1" />
<text transform="translate(169.00,468.20) scale(1.44,1)" font-family="Liberation Sans" font-size="16" font-weight="bold" text-anchor="middle" fill="#000">***</text>
<line x1="196.50" y1="466.60" x2="265.40" y2="466.60" stroke="#444" stroke-width="1.1" />
<text transform="translate(231.00,468.20) scale(1.44,1)" font-family="Liberation Sans" font-size="16" font-weight="bold" text-anchor="middle" fill="#000">***</text>
<line x1="146.40" y1="487.80" x2="170.50" y2="487.80" stroke="#444" stroke-width="1.1" />
<text transform="translate(158.80,489.40) scale(1.44,1)" font-family="Liberation Sans" font-size="16" font-weight="bold" text-anchor="middle" fill="#000">**</text>
<line x1="193.90" y1="487.80" x2="241.60" y2="487.80" stroke="#444" stroke-width="1.1" />
<text transform="translate(217.70,489.40) scale(1.44,1)" font-family="Liberation Sans" font-size="16" font-weight="bold" text-anchor="middle" fill="#000">***</text>
<ellipse cx="482.80" cy="552.10" rx="2.9" ry="2.15" fill="#000"/>
<ellipse cx="487.50" cy="552.80" rx="2.9" ry="2.15" fill="#000"/>
<ellipse cx="492.80" cy="553.00" rx="2.9" ry="2.15" fill="#000"/>
<ellipse cx="487.90" cy="557.60" rx="2.9" ry="2.15" fill="#000"/>
<circle transform="translate(507.40,545.80) scale(1.44,1)" r="2.1" fill="white" stroke="#000" stroke-width="1.1"/>
<circle transform="translate(510.80,545.80) scale(1.44,1)" r="2.1" fill="white" stroke="#000" stroke-width="1.1"/>
<circle transform="translate(514.30,543.30) scale(1.44,1)" r="2.1" fill="white" stroke="#000" stroke-width="1.1"/>
<circle transform="translate(517.10,543.80) scale(1.44,1)" r="2.1" fill="white" stroke="#000" stroke-width="1.1"/>
<circle transform="translate(512.20,547.20) scale(1.44,1)" r="2.1" fill="white" stroke="#000" stroke-width="1.1"/>
<circle transform="translate(511.50,553.50) scale(1.44,1)" r="2.1" fill="white" stroke="#000" stroke-width="1.1"/>
<circle transform="translate(511.50,557.60) scale(1.44,1)" r="2.1" fill="white" stroke="#000" stroke-width="1.1"/>
<path d="M531.40,487.90 L538.00,487.90 L534.70,491.90 Z" fill="#000"/>
<path d="M526.30,511.90 L532.90,511.90 L529.60,515.90 Z" fill="#000"/>
<path d="M536.70,511.90 L543.30,511.90 L540.00,515.90 Z" fill="#000"/>
<path d="M531.40,516.30 L538.00,516.30 L534.70,520.30 Z" fill="#000"/>
<path transform="translate(558.30,505.60) scale(1.44,1)" d="M0,-1.9 L1.95,1.55 L-1.95,1.55 Z" fill="white" stroke="#000" stroke-width="1.1" stroke-miterlimit="2.5"/>
<path transform="translate(558.30,529.40) scale(1.44,1)" d="M0,-1.9 L1.95,1.55 L-1.95,1.55 Z" fill="white" stroke="#000" stroke-width="1.1" stroke-miterlimit="2.5"/>
<path transform="translate(558.30,536.40) scale(1.44,1)" d="M0,-1.9 L1.95,1.55 L-1.95,1.55 Z" fill="white" stroke="#000" stroke-width="1.1" stroke-miterlimit="2.5"/>
<path transform="translate(581.90,522.90) scale(1.44,1)" d="M0,1.9 L1.95,-1.55 L-1.95,-1.55 Z" fill="white" stroke="#000" stroke-width="1.1" stroke-miterlimit="2.5"/>
<path transform="translate(581.90,533.30) scale(1.44,1)" d="M0,1.9 L1.95,-1.55 L-1.95,-1.55 Z" fill="white" stroke="#000" stroke-width="1.1" stroke-miterlimit="2.5"/>
<path transform="translate(581.90,537.50) scale(1.44,1)" d="M0,1.9 L1.95,-1.55 L-1.95,-1.55 Z" fill="white" stroke="#000" stroke-width="1.1" stroke-miterlimit="2.5"/>
<rect x="596.80" y="527.90" width="5.6" height="4.0" fill="#000"/>
<rect x="600.70" y="528.30" width="5.6" height="4.0" fill="#000"/>
<rect x="604.40" y="525.80" width="5.6" height="4.0" fill="#000"/>
<rect x="608.60" y="526.10" width="5.6" height="4.0" fill="#000"/>
<rect x="598.70" y="529.00" width="5.6" height="4.0" fill="#000"/>
<line x1="487.95" y1="551.50" x2="487.95" y2="555.50" stroke="#999" stroke-width="1.1" />
<line x1="483.67" y1="551.50" x2="492.23" y2="551.50" stroke="#999" stroke-width="1.0" />
<line x1="483.67" y1="555.50" x2="492.23" y2="555.50" stroke="#999" stroke-width="1.0" />
<line x1="480.30" y1="553.50" x2="495.60" y2="553.50" stroke="#444" stroke-width="1.1" />
<line x1="511.55" y1="546.00" x2="511.55" y2="551.50" stroke="#000" stroke-width="1.1" />
<line x1="507.27" y1="546.00" x2="515.83" y2="546.00" stroke="#000" stroke-width="1.0" />
<line x1="507.27" y1="551.50" x2="515.83" y2="551.50" stroke="#000" stroke-width="1.0" />
<line x1="503.90" y1="548.60" x2="519.20" y2="548.60" stroke="#000" stroke-width="1.1" />
<line x1="535.00" y1="502.50" x2="535.00" y2="515.50" stroke="#999" stroke-width="1.1" />
<line x1="530.63" y1="502.50" x2="539.37" y2="502.50" stroke="#999" stroke-width="1.0" />
<line x1="530.63" y1="515.50" x2="539.37" y2="515.50" stroke="#999" stroke-width="1.0" />
<line x1="527.20" y1="509.00" x2="542.80" y2="509.00" stroke="#000" stroke-width="1.1" />
<line x1="558.65" y1="514.30" x2="558.65" y2="533.00" stroke="#000" stroke-width="1.1" />
<line x1="554.37" y1="514.30" x2="562.93" y2="514.30" stroke="#000" stroke-width="1.0" />
<line x1="554.37" y1="533.00" x2="562.93" y2="533.00" stroke="#000" stroke-width="1.0" />
<line x1="551.00" y1="523.30" x2="566.30" y2="523.30" stroke="#000" stroke-width="1.1" />
<line x1="582.05" y1="527.10" x2="582.05" y2="535.50" stroke="#000" stroke-width="1.1" />
<line x1="577.65" y1="527.10" x2="586.45" y2="527.10" stroke="#000" stroke-width="1.0" />
<line x1="577.65" y1="535.50" x2="586.45" y2="535.50" stroke="#000" stroke-width="1.0" />
<line x1="574.20" y1="531.30" x2="589.90" y2="531.30" stroke="#000" stroke-width="1.1" />
<line x1="605.25" y1="528.50" x2="605.25" y2="531.30" stroke="#000" stroke-width="1.1" />
<line x1="600.91" y1="528.50" x2="609.59" y2="528.50" stroke="#000" stroke-width="1.0" />
<line x1="600.91" y1="531.30" x2="609.59" y2="531.30" stroke="#000" stroke-width="1.0" />
<line x1="597.50" y1="529.90" x2="613.00" y2="529.90" stroke="#000" stroke-width="1.1" />
<path d="M471.9,462.20 V566.4 H621.8" fill="none" stroke="#000" stroke-width="1.3"/>
<line x1="465.90" y1="566.40" x2="471.90" y2="566.40" stroke="#000" stroke-width="1.15" />
<text transform="translate(462.60,569.70) scale(1.335,1.0)" font-family="Liberation Sans" font-size="8.2" font-weight="bold" text-anchor="end" fill="#000" stroke="#000" stroke-width="0.12">0</text>
<line x1="465.90" y1="540.35" x2="471.90" y2="540.35" stroke="#000" stroke-width="1.15" />
<text transform="translate(462.60,543.65) scale(1.335,1.0)" font-family="Liberation Sans" font-size="8.2" font-weight="bold" text-anchor="end" fill="#000" stroke="#000" stroke-width="0.12">100</text>
<line x1="465.90" y1="514.30" x2="471.90" y2="514.30" stroke="#000" stroke-width="1.15" />
<text transform="translate(462.60,517.60) scale(1.335,1.0)" font-family="Liberation Sans" font-size="8.2" font-weight="bold" text-anchor="end" fill="#000" stroke="#000" stroke-width="0.12">200</text>
<line x1="465.90" y1="488.25" x2="471.90" y2="488.25" stroke="#000" stroke-width="1.15" />
<text transform="translate(462.60,491.55) scale(1.335,1.0)" font-family="Liberation Sans" font-size="8.2" font-weight="bold" text-anchor="end" fill="#000" stroke="#000" stroke-width="0.12">300</text>
<line x1="465.90" y1="462.20" x2="471.90" y2="462.20" stroke="#000" stroke-width="1.15" />
<text transform="translate(462.60,465.50) scale(1.335,1.0)" font-family="Liberation Sans" font-size="8.2" font-weight="bold" text-anchor="end" fill="#000" stroke="#000" stroke-width="0.12">400</text>
<line x1="487.50" y1="566.40" x2="487.50" y2="570.90" stroke="#000" stroke-width="1.15" />
<text transform="translate(489.70,577.80) scale(1.44,1) rotate(-45)" font-family="Liberation Sans" font-size="7.85" font-weight="bold" text-anchor="end" fill="#000" stroke="#000" stroke-width="0.1">ND</text>
<line x1="511.20" y1="566.40" x2="511.20" y2="570.90" stroke="#000" stroke-width="1.15" />
<text transform="translate(513.40,577.80) scale(1.44,1) rotate(-45)" font-family="Liberation Sans" font-size="7.85" font-weight="bold" text-anchor="end" fill="#000" stroke="#000" stroke-width="0.1">ND + α-PCSK9 mAb 10 mg/kg</text>
<line x1="534.80" y1="566.40" x2="534.80" y2="570.90" stroke="#000" stroke-width="1.15" />
<text transform="translate(537.00,577.80) scale(1.44,1) rotate(-45)" font-family="Liberation Sans" font-size="7.85" font-weight="bold" text-anchor="end" fill="#000" stroke="#000" stroke-width="0.1">HFD</text>
<line x1="558.30" y1="566.40" x2="558.30" y2="570.90" stroke="#000" stroke-width="1.15" />
<text transform="translate(560.50,577.80) scale(1.44,1) rotate(-45)" font-family="Liberation Sans" font-size="7.85" font-weight="bold" text-anchor="end" fill="#000" stroke="#000" stroke-width="0.1">HFD + α-PCSK9 mAb 3 mg/kg</text>
<line x1="582.00" y1="566.40" x2="582.00" y2="570.90" stroke="#000" stroke-width="1.15" />
<text transform="translate(584.20,577.80) scale(1.44,1) rotate(-45)" font-family="Liberation Sans" font-size="7.85" font-weight="bold" text-anchor="end" fill="#000" stroke="#000" stroke-width="0.1">HFD + α-PCSK9 mAb10 mg/kg</text>
<line x1="605.50" y1="566.40" x2="605.50" y2="570.90" stroke="#000" stroke-width="1.15" />
<text transform="translate(607.70,577.80) scale(1.44,1) rotate(-45)" font-family="Liberation Sans" font-size="7.85" font-weight="bold" text-anchor="end" fill="#000" stroke="#000" stroke-width="0.1">HFD + Statin</text>
<text transform="translate(438.30,514.30) scale(1.44,1) rotate(-90)" font-family="Liberation Sans" font-size="8.4" font-weight="bold" text-anchor="middle" fill="#000" stroke="#000" stroke-width="0.1">ALT(U/L)</text>
<line x1="487.20" y1="477.40" x2="532.80" y2="477.40" stroke="#444" stroke-width="1.1" />
<text transform="translate(509.80,478.90) scale(1.44,1)" font-family="Liberation Sans" font-size="16" font-weight="bold" text-anchor="middle" fill="#000">***</text>
<line x1="537.50" y1="477.40" x2="582.90" y2="477.40" stroke="#444" stroke-width="1.1" />
<text transform="translate(560.00,478.90) scale(1.44,1)" font-family="Liberation Sans" font-size="16" font-weight="bold" text-anchor="middle" fill="#000">*</text>
<ellipse cx="141.80" cy="770.10" rx="2.9" ry="2.15" fill="#000"/>
<ellipse cx="151.90" cy="765.90" rx="2.9" ry="2.15" fill="#000"/>
<ellipse cx="151.90" cy="772.10" rx="2.9" ry="2.15" fill="#000"/>
<ellipse cx="147.10" cy="786.20" rx="2.9" ry="2.15" fill="#000"/>
<ellipse cx="146.00" cy="771.00" rx="2.9" ry="2.15" fill="#000"/>
<circle transform="translate(170.30,759.60) scale(1.44,1)" r="2.1" fill="white" stroke="#000" stroke-width="1.1"/>
<circle transform="translate(164.40,769.90) scale(1.44,1)" r="2.1" fill="white" stroke="#000" stroke-width="1.1"/>
<circle transform="translate(170.30,768.60) scale(1.44,1)" r="2.1" fill="white" stroke="#000" stroke-width="1.1"/>
<circle transform="translate(176.00,771.50) scale(1.44,1)" r="2.1" fill="white" stroke="#000" stroke-width="1.1"/>
<circle transform="translate(170.30,775.10) scale(1.44,1)" r="2.1" fill="white" stroke="#000" stroke-width="1.1"/>
<circle transform="translate(166.80,779.30) scale(1.44,1)" r="2.1" fill="white" stroke="#000" stroke-width="1.1"/>
<circle transform="translate(173.40,779.70) scale(1.44,1)" r="2.1" fill="white" stroke="#000" stroke-width="1.1"/>
<circle transform="translate(170.30,783.90) scale(1.44,1)" r="2.1" fill="white" stroke="#000" stroke-width="1.1"/>
<path d="M190.30,727.70 L196.90,727.70 L193.60,731.70 Z" fill="#000"/>
<path d="M184.80,762.10 L191.40,762.10 L188.10,766.10 Z" fill="#000"/>
<path d="M195.30,762.50 L201.90,762.50 L198.60,766.50 Z" fill="#000"/>
<path d="M189.40,759.90 L196.00,759.90 L192.70,763.90 Z" fill="#000"/>
<path d="M190.30,769.10 L196.90,769.10 L193.60,773.10 Z" fill="#000"/>
<path d="M190.30,777.00 L196.90,777.00 L193.60,781.00 Z" fill="#000"/>
<path transform="translate(217.60,741.50) scale(1.44,1)" d="M0,-1.9 L1.95,1.55 L-1.95,1.55 Z" fill="white" stroke="#000" stroke-width="1.1" stroke-miterlimit="2.5"/>
<path transform="translate(217.60,747.20) scale(1.44,1)" d="M0,-1.9 L1.95,1.55 L-1.95,1.55 Z" fill="white" stroke="#000" stroke-width="1.1" stroke-miterlimit="2.5"/>
<path transform="translate(212.70,781.70) scale(1.44,1)" d="M0,-1.9 L1.95,1.55 L-1.95,1.55 Z" fill="white" stroke="#000" stroke-width="1.1" stroke-miterlimit="2.5"/>
<path transform="translate(222.60,778.70) scale(1.44,1)" d="M0,-1.9 L1.95,1.55 L-1.95,1.55 Z" fill="white" stroke="#000" stroke-width="1.1" stroke-miterlimit="2.5"/>
<path transform="translate(241.20,749.10) scale(1.44,1)" d="M0,1.9 L1.95,-1.55 L-1.95,-1.55 Z" fill="white" stroke="#000" stroke-width="1.1" stroke-miterlimit="2.5"/>
<path transform="translate(241.20,754.40) scale(1.44,1)" d="M0,1.9 L1.95,-1.55 L-1.95,-1.55 Z" fill="white" stroke="#000" stroke-width="1.1" stroke-miterlimit="2.5"/>
<path transform="translate(236.00,774.10) scale(1.44,1)" d="M0,1.9 L1.95,-1.55 L-1.95,-1.55 Z" fill="white" stroke="#000" stroke-width="1.1" stroke-miterlimit="2.5"/>
<path transform="translate(246.20,774.70) scale(1.44,1)" d="M0,1.9 L1.95,-1.55 L-1.95,-1.55 Z" fill="white" stroke="#000" stroke-width="1.1" stroke-miterlimit="2.5"/>
<path transform="translate(241.20,780.00) scale(1.44,1)" d="M0,1.9 L1.95,-1.55 L-1.95,-1.55 Z" fill="white" stroke="#000" stroke-width="1.1" stroke-miterlimit="2.5"/>
<rect x="255.70" y="727.70" width="5.6" height="4.0" fill="#000"/>
<rect x="259.70" y="727.70" width="5.6" height="4.0" fill="#000"/>
<rect x="263.70" y="727.70" width="5.6" height="4.0" fill="#000"/>
<rect x="267.70" y="727.70" width="5.6" height="4.0" fill="#000"/>
<rect x="261.20" y="743.20" width="5.6" height="4.0" fill="#000"/>
<rect x="255.70" y="752.40" width="5.6" height="4.0" fill="#000"/>
<rect x="259.70" y="752.40" width="5.6" height="4.0" fill="#000"/>
<rect x="263.70" y="752.40" width="5.6" height="4.0" fill="#000"/>
<rect x="267.70" y="752.40" width="5.6" height="4.0" fill="#000"/>
<line x1="147.05" y1="769.50" x2="147.05" y2="777.80" stroke="#000" stroke-width="1.1" />
<line x1="142.82" y1="769.50" x2="151.28" y2="769.50" stroke="#000" stroke-width="1.0" />
<line x1="142.82" y1="777.80" x2="151.28" y2="777.80" stroke="#000" stroke-width="1.0" />
<line x1="139.50" y1="773.40" x2="154.60" y2="773.40" stroke="#000" stroke-width="1.1" />
<line x1="170.30" y1="769.00" x2="170.30" y2="776.50" stroke="#000" stroke-width="1.1" />
<line x1="165.88" y1="769.00" x2="174.72" y2="769.00" stroke="#000" stroke-width="1.0" />
<line x1="165.88" y1="776.50" x2="174.72" y2="776.50" stroke="#000" stroke-width="1.0" />
<line x1="162.40" y1="772.80" x2="178.20" y2="772.80" stroke="#000" stroke-width="1.1" />
<line x1="193.65" y1="758.30" x2="193.65" y2="768.80" stroke="#999" stroke-width="1.1" />
<line x1="189.42" y1="758.30" x2="197.88" y2="758.30" stroke="#999" stroke-width="1.0" />
<line x1="189.42" y1="768.80" x2="197.88" y2="768.80" stroke="#999" stroke-width="1.0" />
<line x1="186.10" y1="763.60" x2="201.20" y2="763.60" stroke="#000" stroke-width="1.1" />
<line x1="217.80" y1="751.40" x2="217.80" y2="772.40" stroke="#000" stroke-width="1.1" />
<line x1="213.49" y1="751.40" x2="222.11" y2="751.40" stroke="#000" stroke-width="1.0" />
<line x1="213.49" y1="772.40" x2="222.11" y2="772.40" stroke="#000" stroke-width="1.0" />
<line x1="210.10" y1="762.00" x2="225.50" y2="762.00" stroke="#000" stroke-width="1.1" />
<line x1="241.15" y1="761.20" x2="241.15" y2="772.50" stroke="#000" stroke-width="1.1" />
<line x1="236.81" y1="761.20" x2="245.49" y2="761.20" stroke="#000" stroke-width="1.0" />
<line x1="236.81" y1="772.50" x2="245.49" y2="772.50" stroke="#000" stroke-width="1.0" />
<line x1="233.40" y1="766.90" x2="248.90" y2="766.90" stroke="#000" stroke-width="1.1" />
<line x1="264.75" y1="738.00" x2="264.75" y2="746.80" stroke="#000" stroke-width="1.1" />
<line x1="260.41" y1="738.00" x2="269.09" y2="738.00" stroke="#000" stroke-width="1.0" />
<line x1="260.41" y1="746.80" x2="269.09" y2="746.80" stroke="#000" stroke-width="1.0" />
<line x1="257.00" y1="742.30" x2="272.50" y2="742.30" stroke="#000" stroke-width="1.1" />
<path d="M130.9,695.00 V799.1 H280.7" fill="none" stroke="#000" stroke-width="1.3"/>
<line x1="124.90" y1="799.10" x2="130.90" y2="799.10" stroke="#000" stroke-width="1.15" />
<text transform="translate(121.60,802.40) scale(1.335,1.0)" font-family="Liberation Sans" font-size="8.2" font-weight="bold" text-anchor="end" fill="#000" stroke="#000" stroke-width="0.12">0</text>
<line x1="124.90" y1="764.40" x2="130.90" y2="764.40" stroke="#000" stroke-width="1.15" />
<text transform="translate(121.60,767.70) scale(1.335,1.0)" font-family="Liberation Sans" font-size="8.2" font-weight="bold" text-anchor="end" fill="#000" stroke="#000" stroke-width="0.12">500</text>
<line x1="124.90" y1="729.70" x2="130.90" y2="729.70" stroke="#000" stroke-width="1.15" />
<text transform="translate(121.60,733.00) scale(1.335,1.0)" font-family="Liberation Sans" font-size="8.2" font-weight="bold" text-anchor="end" fill="#000" stroke="#000" stroke-width="0.12">1000</text>
<line x1="124.90" y1="695.00" x2="130.90" y2="695.00" stroke="#000" stroke-width="1.15" />
<text transform="translate(121.60,698.30) scale(1.335,1.0)" font-family="Liberation Sans" font-size="8.2" font-weight="bold" text-anchor="end" fill="#000" stroke="#000" stroke-width="0.12">1500</text>
<line x1="146.70" y1="799.10" x2="146.70" y2="803.60" stroke="#000" stroke-width="1.15" />
<text transform="translate(148.90,810.50) scale(1.44,1) rotate(-45)" font-family="Liberation Sans" font-size="7.85" font-weight="bold" text-anchor="end" fill="#000" stroke="#000" stroke-width="0.1">ND</text>
<line x1="170.30" y1="799.10" x2="170.30" y2="803.60" stroke="#000" stroke-width="1.15" />
<text transform="translate(172.50,810.50) scale(1.44,1) rotate(-45)" font-family="Liberation Sans" font-size="7.85" font-weight="bold" text-anchor="end" fill="#000" stroke="#000" stroke-width="0.1">ND + α-PCSK9 mAb 10 mg/kg</text>
<line x1="193.80" y1="799.10" x2="193.80" y2="803.60" stroke="#000" stroke-width="1.15" />
<text transform="translate(196.00,810.50) scale(1.44,1) rotate(-45)" font-family="Liberation Sans" font-size="7.85" font-weight="bold" text-anchor="end" fill="#000" stroke="#000" stroke-width="0.1">HFD</text>
<line x1="217.50" y1="799.10" x2="217.50" y2="803.60" stroke="#000" stroke-width="1.15" />
<text transform="translate(219.70,810.50) scale(1.44,1) rotate(-45)" font-family="Liberation Sans" font-size="7.85" font-weight="bold" text-anchor="end" fill="#000" stroke="#000" stroke-width="0.1">HFD + α-PCSK9 mAb 3 mg/kg</text>
<line x1="241.10" y1="799.10" x2="241.10" y2="803.60" stroke="#000" stroke-width="1.15" />
<text transform="translate(243.30,810.50) scale(1.44,1) rotate(-45)" font-family="Liberation Sans" font-size="7.85" font-weight="bold" text-anchor="end" fill="#000" stroke="#000" stroke-width="0.1">HFD + α-PCSK9 mAb10 mg/kg</text>
<line x1="264.60" y1="799.10" x2="264.60" y2="803.60" stroke="#000" stroke-width="1.15" />
<text transform="translate(266.80,810.50) scale(1.44,1) rotate(-45)" font-family="Liberation Sans" font-size="7.85" font-weight="bold" text-anchor="end" fill="#000" stroke="#000" stroke-width="0.1">HFD + Statin</text>
<text transform="translate(91.50,747.05) scale(1.44,1) rotate(-90)" font-family="Liberation Sans" font-size="8.4" font-weight="bold" text-anchor="middle" fill="#000" stroke="#000" stroke-width="0.1">AST(U/L)</text>
<ellipse cx="487.60" cy="771.50" rx="2.9" ry="2.15" fill="#000"/>
<ellipse cx="482.70" cy="780.00" rx="2.9" ry="2.15" fill="#000"/>
<ellipse cx="489.30" cy="778.70" rx="2.9" ry="2.15" fill="#000"/>
<ellipse cx="493.20" cy="777.00" rx="2.9" ry="2.15" fill="#000"/>
<ellipse cx="484.70" cy="776.70" rx="2.9" ry="2.15" fill="#000"/>
<circle transform="translate(513.60,775.10) scale(1.44,1)" r="2.1" fill="white" stroke="#000" stroke-width="1.1"/>
<circle transform="translate(510.30,777.40) scale(1.44,1)" r="2.1" fill="white" stroke="#000" stroke-width="1.1"/>
<circle transform="translate(516.90,780.70) scale(1.44,1)" r="2.1" fill="white" stroke="#000" stroke-width="1.1"/>
<circle transform="translate(508.40,780.70) scale(1.44,1)" r="2.1" fill="white" stroke="#000" stroke-width="1.1"/>
<circle transform="translate(505.70,784.30) scale(1.44,1)" r="2.1" fill="white" stroke="#000" stroke-width="1.1"/>
<circle transform="translate(513.00,783.30) scale(1.44,1)" r="2.1" fill="white" stroke="#000" stroke-width="1.1"/>
<circle transform="translate(516.20,786.20) scale(1.44,1)" r="2.1" fill="white" stroke="#000" stroke-width="1.1"/>
<path d="M531.60,764.20 L538.20,764.20 L534.90,768.20 Z" fill="#000"/>
<path d="M526.70,769.50 L533.30,769.50 L530.00,773.50 Z" fill="#000"/>
<path d="M532.70,772.40 L539.30,772.40 L536.00,776.40 Z" fill="#000"/>
<path d="M536.60,773.00 L543.20,773.00 L539.90,777.00 Z" fill="#000"/>
<path d="M531.60,779.60 L538.20,779.60 L534.90,783.60 Z" fill="#000"/>
<path transform="translate(558.40,716.90) scale(1.44,1)" d="M0,-1.9 L1.95,1.55 L-1.95,1.55 Z" fill="white" stroke="#000" stroke-width="1.1" stroke-miterlimit="2.5"/>
<path transform="translate(558.40,730.50) scale(1.44,1)" d="M0,-1.9 L1.95,1.55 L-1.95,1.55 Z" fill="white" stroke="#000" stroke-width="1.1" stroke-miterlimit="2.5"/>
<path transform="translate(553.40,770.40) scale(1.44,1)" d="M0,-1.9 L1.95,1.55 L-1.95,1.55 Z" fill="white" stroke="#000" stroke-width="1.1" stroke-miterlimit="2.5"/>
<path transform="translate(563.60,771.70) scale(1.44,1)" d="M0,-1.9 L1.95,1.55 L-1.95,1.55 Z" fill="white" stroke="#000" stroke-width="1.1" stroke-miterlimit="2.5"/>
<path transform="translate(558.40,785.70) scale(1.44,1)" d="M0,-1.9 L1.95,1.55 L-1.95,1.55 Z" fill="white" stroke="#000" stroke-width="1.1" stroke-miterlimit="2.5"/>
<path transform="translate(582.00,779.30) scale(1.44,1)" d="M0,1.9 L1.95,-1.55 L-1.95,-1.55 Z" fill="white" stroke="#000" stroke-width="1.1" stroke-miterlimit="2.5"/>
<path transform="translate(576.80,787.20) scale(1.44,1)" d="M0,1.9 L1.95,-1.55 L-1.95,-1.55 Z" fill="white" stroke="#000" stroke-width="1.1" stroke-miterlimit="2.5"/>
<path transform="translate(581.60,786.60) scale(1.44,1)" d="M0,1.9 L1.95,-1.55 L-1.95,-1.55 Z" fill="white" stroke="#000" stroke-width="1.1" stroke-miterlimit="2.5"/>
<path transform="translate(587.30,787.90) scale(1.44,1)" d="M0,1.9 L1.95,-1.55 L-1.95,-1.55 Z" fill="white" stroke="#000" stroke-width="1.1" stroke-miterlimit="2.5"/>
<path transform="translate(584.00,787.00) scale(1.44,1)" d="M0,1.9 L1.95,-1.55 L-1.95,-1.55 Z" fill="white" stroke="#000" stroke-width="1.1" stroke-miterlimit="2.5"/>
<rect x="602.90" y="720.20" width="5.6" height="4.0" fill="#000"/>
<rect x="602.90" y="749.80" width="5.6" height="4.0" fill="#000"/>
<rect x="602.90" y="769.70" width="5.6" height="4.0" fill="#000"/>
<rect x="602.90" y="780.00" width="5.6" height="4.0" fill="#000"/>
<rect x="602.90" y="785.90" width="5.6" height="4.0" fill="#000"/>
<line x1="487.35" y1="775.00" x2="487.35" y2="778.50" stroke="#000" stroke-width="1.1" />
<line x1="483.29" y1="775.00" x2="491.41" y2="775.00" stroke="#000" stroke-width="1.0" />
<line x1="483.29" y1="778.50" x2="491.41" y2="778.50" stroke="#000" stroke-width="1.0" />
<line x1="480.10" y1="776.70" x2="494.60" y2="776.70" stroke="#000" stroke-width="1.1" />
<line x1="511.25" y1="779.50" x2="511.25" y2="783.00" stroke="#000" stroke-width="1.1" />
<line x1="506.91" y1="779.50" x2="515.59" y2="779.50" stroke="#000" stroke-width="1.0" />
<line x1="506.91" y1="783.00" x2="515.59" y2="783.00" stroke="#000" stroke-width="1.0" />
<line x1="503.50" y1="781.30" x2="519.00" y2="781.30" stroke="#000" stroke-width="1.1" />
<line x1="535.15" y1="772.00" x2="535.15" y2="776.50" stroke="#000" stroke-width="1.1" />
<line x1="531.03" y1="772.00" x2="539.27" y2="772.00" stroke="#000" stroke-width="1.0" />
<line x1="531.03" y1="776.50" x2="539.27" y2="776.50" stroke="#000" stroke-width="1.0" />
<line x1="527.80" y1="774.10" x2="542.50" y2="774.10" stroke="#000" stroke-width="1.1" />
<line x1="558.55" y1="741.20" x2="558.55" y2="768.20" stroke="#000" stroke-width="1.1" />
<line x1="554.21" y1="741.20" x2="562.89" y2="741.20" stroke="#000" stroke-width="1.0" />
<line x1="554.21" y1="768.20" x2="562.89" y2="768.20" stroke="#000" stroke-width="1.0" />
<line x1="550.80" y1="754.60" x2="566.30" y2="754.60" stroke="#000" stroke-width="1.1" />
<line x1="582.00" y1="784.00" x2="582.00" y2="787.50" stroke="#000" stroke-width="1.1" />
<line x1="577.80" y1="784.00" x2="586.20" y2="784.00" stroke="#000" stroke-width="1.0" />
<line x1="577.80" y1="787.50" x2="586.20" y2="787.50" stroke="#000" stroke-width="1.0" />
<line x1="574.50" y1="785.90" x2="589.50" y2="785.90" stroke="#000" stroke-width="1.1" />
<line x1="605.85" y1="754.10" x2="605.85" y2="775.10" stroke="#000" stroke-width="1.1" />
<line x1="601.51" y1="754.10" x2="610.19" y2="754.10" stroke="#000" stroke-width="1.0" />
<line x1="601.51" y1="775.10" x2="610.19" y2="775.10" stroke="#000" stroke-width="1.0" />
<line x1="598.10" y1="763.10" x2="613.60" y2="763.10" stroke="#000" stroke-width="1.1" />
<path d="M471.6,695.10 V799.3 H621.5" fill="none" stroke="#000" stroke-width="1.3"/>
<line x1="465.60" y1="799.30" x2="471.60" y2="799.30" stroke="#000" stroke-width="1.15" />
<text transform="translate(462.30,802.60) scale(1.335,1.0)" font-family="Liberation Sans" font-size="8.2" font-weight="bold" text-anchor="end" fill="#000" stroke="#000" stroke-width="0.12">0</text>
<line x1="465.60" y1="778.46" x2="471.60" y2="778.46" stroke="#000" stroke-width="1.15" />
<text transform="translate(462.30,781.76) scale(1.335,1.0)" font-family="Liberation Sans" font-size="8.2" font-weight="bold" text-anchor="end" fill="#000" stroke="#000" stroke-width="0.12">200</text>
<line x1="465.60" y1="757.62" x2="471.60" y2="757.62" stroke="#000" stroke-width="1.15" />
<text transform="translate(462.30,760.92) scale(1.335,1.0)" font-family="Liberation Sans" font-size="8.2" font-weight="bold" text-anchor="end" fill="#000" stroke="#000" stroke-width="0.12">400</text>
<line x1="465.60" y1="736.78" x2="471.60" y2="736.78" stroke="#000" stroke-width="1.15" />
<text transform="translate(462.30,740.08) scale(1.335,1.0)" font-family="Liberation Sans" font-size="8.2" font-weight="bold" text-anchor="end" fill="#000" stroke="#000" stroke-width="0.12">600</text>
<line x1="465.60" y1="715.94" x2="471.60" y2="715.94" stroke="#000" stroke-width="1.15" />
<text transform="translate(462.30,719.24) scale(1.335,1.0)" font-family="Liberation Sans" font-size="8.2" font-weight="bold" text-anchor="end" fill="#000" stroke="#000" stroke-width="0.12">800</text>
<line x1="465.60" y1="695.10" x2="471.60" y2="695.10" stroke="#000" stroke-width="1.15" />
<text transform="translate(462.30,698.40) scale(1.335,1.0)" font-family="Liberation Sans" font-size="8.2" font-weight="bold" text-anchor="end" fill="#000" stroke="#000" stroke-width="0.12">1000</text>
<line x1="487.50" y1="799.30" x2="487.50" y2="803.80" stroke="#000" stroke-width="1.15" />
<text transform="translate(489.70,810.70) scale(1.44,1) rotate(-45)" font-family="Liberation Sans" font-size="7.85" font-weight="bold" text-anchor="end" fill="#000" stroke="#000" stroke-width="0.1">ND</text>
<line x1="511.20" y1="799.30" x2="511.20" y2="803.80" stroke="#000" stroke-width="1.15" />
<text transform="translate(513.40,810.70) scale(1.44,1) rotate(-45)" font-family="Liberation Sans" font-size="7.85" font-weight="bold" text-anchor="end" fill="#000" stroke="#000" stroke-width="0.1">ND + α-PCSK9 mAb 10 mg/kg</text>
<line x1="534.80" y1="799.30" x2="534.80" y2="803.80" stroke="#000" stroke-width="1.15" />
<text transform="translate(537.00,810.70) scale(1.44,1) rotate(-45)" font-family="Liberation Sans" font-size="7.85" font-weight="bold" text-anchor="end" fill="#000" stroke="#000" stroke-width="0.1">HFD</text>
<line x1="558.30" y1="799.30" x2="558.30" y2="803.80" stroke="#000" stroke-width="1.15" />
<text transform="translate(560.50,810.70) scale(1.44,1) rotate(-45)" font-family="Liberation Sans" font-size="7.85" font-weight="bold" text-anchor="end" fill="#000" stroke="#000" stroke-width="0.1">HFD + α-PCSK9 mAb 3 mg/kg</text>
<line x1="582.00" y1="799.30" x2="582.00" y2="803.80" stroke="#000" stroke-width="1.15" />
<text transform="translate(584.20,810.70) scale(1.44,1) rotate(-45)" font-family="Liberation Sans" font-size="7.85" font-weight="bold" text-anchor="end" fill="#000" stroke="#000" stroke-width="0.1">HFD + α-PCSK9 mAb10 mg/kg</text>
<line x1="605.50" y1="799.30" x2="605.50" y2="803.80" stroke="#000" stroke-width="1.15" />
<text transform="translate(607.70,810.70) scale(1.44,1) rotate(-45)" font-family="Liberation Sans" font-size="7.85" font-weight="bold" text-anchor="end" fill="#000" stroke="#000" stroke-width="0.1">HFD + Statin</text>
<text transform="translate(433.50,747.20) scale(1.44,1) rotate(-90)" font-family="Liberation Sans" font-size="8.4" font-weight="bold" text-anchor="middle" fill="#000" stroke="#000" stroke-width="0.1">ALP(U/L)</text>
</svg></body></html>
